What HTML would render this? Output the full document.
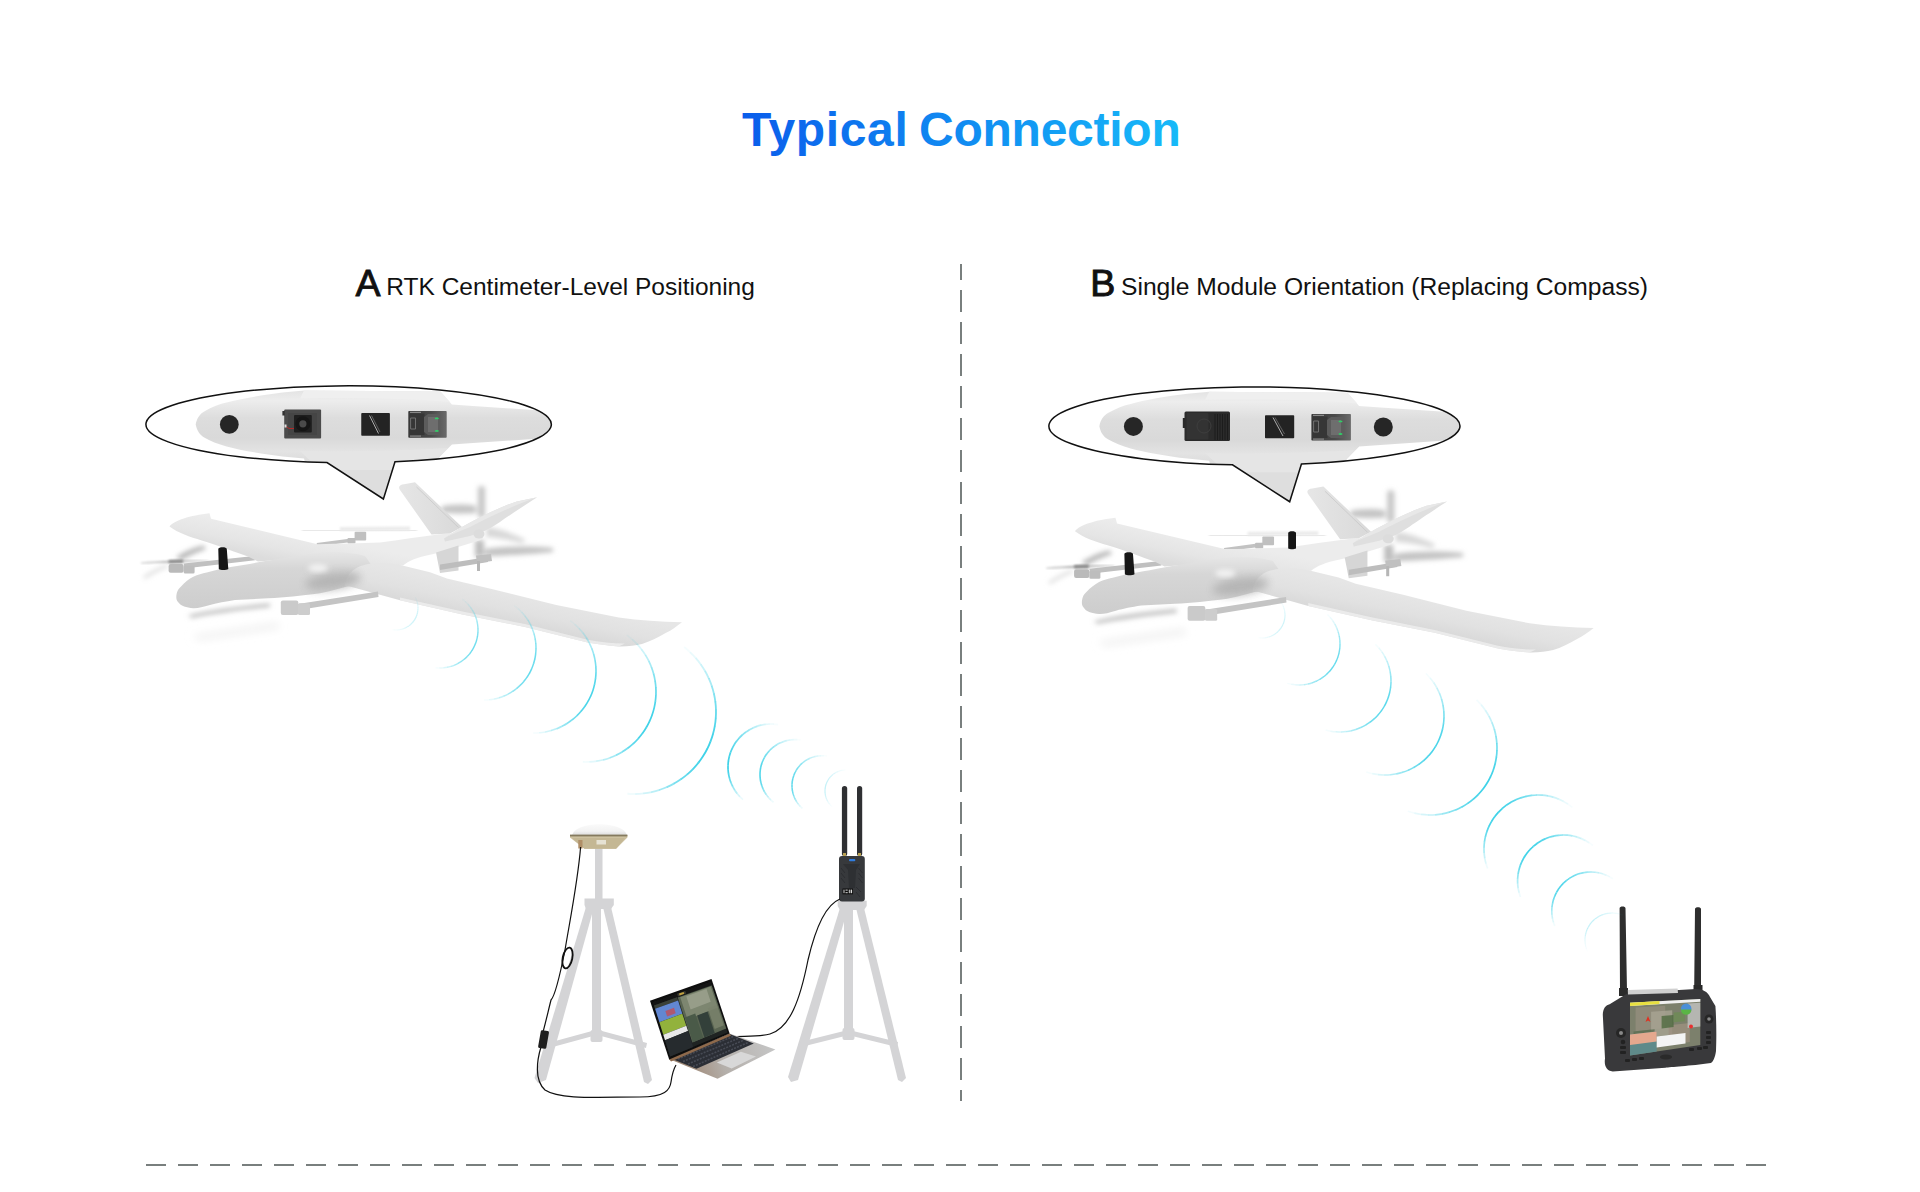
<!DOCTYPE html>
<html><head><meta charset="utf-8"><title>Typical Connection</title>
<style>
html,body{margin:0;padding:0;background:#fff;}
body{width:1920px;height:1192px;overflow:hidden;position:relative;font-family:"Liberation Sans",sans-serif;}
svg{position:absolute;left:0;top:0;}
</style></head><body>
<svg width="1920" height="1192" viewBox="0 0 1920 1192">
<defs>
  <linearGradient id="tg" gradientUnits="userSpaceOnUse" x1="742" y1="0" x2="1178" y2="0">
    <stop offset="0" stop-color="#0a5deb"/><stop offset="1" stop-color="#17b9f8"/>
  </linearGradient>
  <clipPath id="clipA"><path d="M327 462.6 A202.7 38.5 0 1 1 395 461.8 L383.4 499 Z"/></clipPath>
  <linearGradient id="fusA" gradientUnits="userSpaceOnUse" x1="0" y1="391" x2="0" y2="458"><stop offset="0" stop-color="#e4e4e4"/><stop offset="0.14" stop-color="#ededed"/><stop offset="0.4" stop-color="#dddddd"/><stop offset="0.7" stop-color="#d9d9d9"/><stop offset="0.9" stop-color="#e3e3e3"/><stop offset="1" stop-color="#dedede"/></linearGradient>
  <linearGradient id="m3A" x1="0" y1="0" x2="1" y2="0"><stop offset="0" stop-color="#3a3a3a"/><stop offset="0.6" stop-color="#4a4a4a"/><stop offset="1" stop-color="#6a6a6a"/></linearGradient>
  <linearGradient id="lwg" gradientUnits="userSpaceOnUse" x1="230" y1="520" x2="224" y2="550"><stop offset="0" stop-color="#ececec"/><stop offset="0.6" stop-color="#e5e5e5"/><stop offset="1" stop-color="#dcdcdc"/></linearGradient>
  <linearGradient id="rwg" gradientUnits="userSpaceOnUse" x1="500" y1="590" x2="493" y2="624"><stop offset="0" stop-color="#e6e6e6"/><stop offset="0.5" stop-color="#e1e1e1"/><stop offset="0.92" stop-color="#d8d8d8"/><stop offset="1" stop-color="#dcdcdc"/></linearGradient>
  <linearGradient id="fsg" x1="0" y1="0" x2="0" y2="1"><stop offset="0" stop-color="#e6e6e6"/><stop offset="0.3" stop-color="#d6d6d6"/><stop offset="1" stop-color="#cdcdcd"/></linearGradient>
  <linearGradient id="fing" x1="0" y1="0" x2="1" y2="0"><stop offset="0" stop-color="#e6e6e6"/><stop offset="1" stop-color="#d9d9d9"/></linearGradient>
  <linearGradient id="lapbase" gradientUnits="userSpaceOnUse" x1="690" y1="1075" x2="770" y2="1045"><stop offset="0" stop-color="#a08a78"/><stop offset="0.4" stop-color="#b4afaa"/><stop offset="1" stop-color="#c4c4c4"/></linearGradient>
  <linearGradient id="dome" x1="0" y1="0" x2="0" y2="1"><stop offset="0" stop-color="#fafafa"/><stop offset="0.6" stop-color="#f2f2f2"/><stop offset="1" stop-color="#d8d8d8"/></linearGradient>
  <linearGradient id="blade" gradientUnits="userSpaceOnUse" x1="141" y1="0" x2="208" y2="0"><stop offset="0" stop-color="#d8d8d8"/><stop offset="0.45" stop-color="#a8a8a8"/><stop offset="0.65" stop-color="#b0b0b0"/><stop offset="1" stop-color="#dcdcdc"/></linearGradient>
  <filter id="b1" x="-20%" y="-20%" width="140%" height="140%"><feGaussianBlur stdDeviation="1"/></filter>
  <filter id="b2" x="-30%" y="-30%" width="160%" height="160%"><feGaussianBlur stdDeviation="2.5"/></filter>
  <filter id="b4" x="-30%" y="-50%" width="160%" height="200%"><feGaussianBlur stdDeviation="4"/></filter>
</defs>

<!-- TITLE -->
<text x="742" y="146" font-family="Liberation Sans" font-weight="bold" font-size="48" letter-spacing="0.65" fill="url(#tg)">Typical</text>
<text x="919" y="146" font-family="Liberation Sans" font-weight="bold" font-size="48" letter-spacing="-0.25" fill="url(#tg)">Connection</text>

<!-- SUBTITLES -->
<text x="355.5" y="296.3" font-family="Liberation Sans" font-size="37.6" fill="#111" stroke="#111" stroke-width="0.8">A</text>
<text x="386.3" y="295.3" font-family="Liberation Sans" font-size="24.5" fill="#111">RTK Centimeter-Level Positioning</text>
<text x="1090.3" y="296.3" font-family="Liberation Sans" font-size="37.6" fill="#111" stroke="#111" stroke-width="1">B</text>
<text x="1121" y="295.3" font-family="Liberation Sans" font-size="24.63" fill="#111">Single Module Orientation (Replacing Compass)</text>

<!-- PLANE A -->
<g id="planeA">
  <!-- rear prop blurs (behind) -->
  <g filter="url(#b2)">
    <rect x="478" y="486" width="7" height="32" rx="3" fill="#c6c6c6"/>
    <rect x="475" y="540" width="9" height="17" fill="#bdbdbd"/>
    <path d="M441 507 C450 504 465 504 476 506 L476 513 C465 514 450 514 441 512 Z" fill="#c4c4c4"/>
    <path d="M485 549 C505 546 530 546 553 548 L553 552 C530 554 505 556 485 556 Z" fill="#c2c2c2"/>
    <path d="M486 527 C498 528 512 533 526 540 L522 543 C510 540 497 538 486 537 Z" fill="#d8d8d8"/>
  </g>
  <!-- top rear prop blur line -->
  <path d="M302 530.8 L417 530.5" stroke="#cdcdcd" stroke-width="1.6" filter="url(#b1)"/>
  <path d="M340 527 L410 526.5 L410 530.5 L340 531 Z" fill="#ebebeb" filter="url(#b1)"/>
  <!-- right upper boom + motor -->
  <path d="M316.7 543 L355 538 L355 541.5 L317 546.5 Z" fill="#c2c2c2"/>
  <rect x="354.6" y="531.7" width="11.6" height="8.7" rx="1" fill="#c0c0c0"/>
  <rect x="347.5" y="538" width="8" height="5.5" rx="1" fill="#bebebe"/>
  <!-- left front prop blur -->
  <g filter="url(#b2)">
    <path d="M176 557 C184 552 194 547 204 545.5 L206 549 C197 552 188 556 181 560.5 Z" fill="#a9a9a9" opacity="0.85"/>
    <path d="M143 577 C150 572 158 567.5 167 564.5 L168 567 C160 570 152 574 145 579 Z" fill="#d6d6d6" opacity="0.9"/>
  </g>
  <path d="M141 562.3 C160 561 185 560.2 208.5 560 L208.5 561.3 C185 561.8 160 563 141 563.8 Z" fill="url(#blade)" filter="url(#b1)"/>
  <path d="M168.6 560 L183 559.5 L183 563 L168.6 563.3 Z" fill="#8e8e8e" filter="url(#b1)"/>
  <!-- left upper boom + motor -->
  <path d="M183.7 563.5 L254 556 L255 560.3 L184.5 568.5 Z" fill="#c0c0c0"/>
  <rect x="168.6" y="564" width="15.1" height="8.8" rx="2" fill="#bababa"/>
  <rect x="183.7" y="565.6" width="10.9" height="8" rx="1.5" fill="#bdbdbd"/>
  <!-- upper body: left wing + tail boom -->
  <path d="M169.5 526.5 C174 520.5 190 515.5 209.5 513.3 L211 518.8 L317.5 544.2 C340 543.8 360 543.2 380 542.5 C400 540 420 536.5 440 534.2 L481 531.5 C484 533 484 538 481 540 L440 552.5 L430 554.7 C418 557 408 561 403 565.5 L372 567 L330 556 L258 561.5 L248 556.5 C235 552 222 546.5 201.7 540.4 C190 537 178 533 169.5 526.5 Z" fill="url(#lwg)"/>
  <!-- vertical fin -->
  <path d="M400 490 C397.5 486.5 400.5 484.5 404 484.2 L415 482.3 L462 527 L450 533.5 L431.5 534.5 Z" fill="url(#fing)"/>
  <path d="M416.5 487 L458.5 527.5" stroke="#c9c9c9" stroke-width="0.8"/>
  <!-- horizontal stabilizer -->
  <path d="M444 538.5 L461.5 527.2 C480 517 500 507 516.9 501.4 L537.2 497.2 C525 505 510 515 500 522 C494 526 489 529 484.6 531 L470 536 L445 541.5 Z" fill="#dfdfdf"/>
  <path d="M446 537 L461.5 527.2 C480 517 500 507 516.9 501.4 L537.2 497.2 C520 503 495 514 470 527 Z" fill="#e8e8e8"/>
  <ellipse cx="479" cy="534" rx="5.5" ry="4.5" fill="#dcdcdc"/>
  <!-- lower fin -->
  <path d="M436 552.5 L440 573 L458.5 570.5 L458.5 545.5 Z" fill="#d6d6d6"/>
  <!-- rear lower motor/boom -->
  <path d="M440 564.5 L488 557 L488 562 L440 570 Z" fill="#bdbdbd"/>
  <path d="M476 555.5 L491 554 L492 561 L477 563 Z" fill="#c0c0c0"/>
  <rect x="477" y="561" width="3" height="10" fill="#b6b6b6"/>
  <!-- lower prop blur under fuselage -->
  <g filter="url(#b2)">
    <path d="M188 615.5 C210 610 240 606 270 603.5 L270 607 C240 610 212 614 192 618 Z" fill="#bdbdbd"/>
  </g>
  <path d="M192 636 L277 623 L280 628 L200 640 Z" fill="#eeeeee" filter="url(#b4)"/>
  <!-- fuselage -->
  <path d="M176.3 597.5 C176.5 592 178 589 180.8 586.7 C185 582 189 579 193.3 576.7 C198 574.5 202 573.5 206.7 572.5 L218.3 569.6 C226 567.8 235 566.3 243.3 565 C255 562.8 265 561 276.7 559.2 C290 557 305 554.5 320 552.5 C335 551.5 350 552 365 556 L372 566 L359 583.3 C345 587 332 591 320 593.3 C300 596 285 597.5 268.3 598.3 L235 600 C225 601.5 218 603 210 605 C203 607 198 608.5 193.3 608.3 C186 607.5 181 606 179.2 603.3 C177.5 601.5 176.3 600 176.3 597.5 Z" fill="url(#fsg)"/>
  <!-- right big wing -->
  <path d="M345 586 C346 576 352 567 368 564 C382 562 394 563.5 402.3 565.6 L430 572.2 L446.9 578.4 L493.75 589.4 L556.25 605 L618.75 617.5 C640 620.5 660 621.8 682 622.2 C677 626 672 630 665.6 633 C658 637.5 650 641.5 642 644 C635 645.8 628 646.5 618.75 646.4 C608 645.5 598 644.5 587.5 642.5 L525 626.9 L462.5 614.4 L400 600.3 L350.8 586.7 Z" fill="url(#rwg)"/>
  <path d="M400 597.5 L462.5 611.6 L525 624.1 L587.5 639.7 C600 642 612 643.5 625 643.5 L618.75 646.4 C608 645.5 598 644.5 587.5 642.5 L525 626.9 L462.5 614.4 L400 600.3 Z" fill="#efefef" opacity="0.8"/>
  <!-- wing root shadow -->
  <ellipse cx="333" cy="581" rx="28" ry="8.5" fill="#b2b2b2" filter="url(#b4)" opacity="0.9" transform="rotate(-8 333 581)"/>
  <ellipse cx="318" cy="568" rx="10" ry="4" fill="#f2f2f2" filter="url(#b2)"/>
  <!-- lower boom & motor -->
  <path d="M298 604 L378 591.5 L378.5 597 L299 610 Z" fill="#c4c4c4"/>
  <rect x="280.8" y="600.5" width="17.5" height="14.5" rx="2" fill="#cacaca"/>
  <rect x="298" y="603.3" width="12" height="11.7" rx="1.5" fill="#cdcdcd"/>
  <!-- antenna -->
  <path d="M218.3 549 C218.3 546.6 226.8 546.6 226.8 549 L228.3 569 C226 570.3 220.5 570.3 218.8 569 Z" fill="#161616"/>
</g>

<!-- BUBBLE A -->
<g id="bubbleA">
 <g id="bubbleBase">
  <path d="M327 462.6 A202.7 38.5 0 1 1 395 461.8 L383.4 499 Z" fill="#fff"/>
  <g clip-path="url(#clipA)">
    <path d="M195.7 424.5 C197 418 200 414 204.2 411.6 C212 407 220 404 226.6 402.6 C240 399 262 395 282.6 392.6 L304 390.4 L440.4 391.5 L451.9 404.5 L473 406 L556 411.6 L556 437.4 L473 443 L452 444.5 L440.4 456 L400 520 L320 520 L304 458.6 L282.6 456.4 C262 454 240 450 226.6 446.4 C218 444 210 441 204.2 437.4 C200 435 197 431 195.7 424.5 Z" fill="url(#fusA)"/>
    <path d="M304 390.4 L440.4 391.5 L450 402 C400 398 350 397.5 300 398.5 Z" fill="#efefef"/>
    <path d="M300 451 C350 451.5 400 451 448 448 L440.4 456 L420 470 L320 470 Z" fill="#e5e5e5"/>
  </g>
  <path d="M327 462.6 A202.7 38.5 0 1 1 395 461.8 L383.4 499 Z" fill="none" stroke="#111" stroke-width="1.5"/>
 </g>
  <!-- modules -->
  <circle cx="229.3" cy="424.4" r="9.4" fill="#262626"/>
  <rect x="284.2" y="409.5" width="36.9" height="29.1" rx="1" fill="#4b4b4b"/>
  <rect x="282.4" y="411" width="2.5" height="4.5" fill="#333"/>
  <rect x="288" y="413" width="29" height="22" fill="#454545"/>
  <rect x="294" y="414.9" width="17.8" height="17.7" rx="1" fill="#1e1e1e"/>
  <circle cx="302.9" cy="423.8" r="7.5" fill="#151515"/>
  <circle cx="302.9" cy="423.8" r="3.6" fill="#4a4a4a"/>
  <path d="M285.5 426 L289 428.5 L294 428.5" stroke="#c22" stroke-width="0.8" fill="none"/>
  <rect x="284.5" y="424.5" width="2" height="3" fill="#ddd"/>
  <rect x="361.25" y="413.1" width="28.65" height="22.6" rx="0.8" fill="#232323"/>
  <path d="M369.5 415.5 L378.5 433.5" stroke="#bbb" stroke-width="0.9"/>
  <path d="M371.5 415.5 L380 432" stroke="#888" stroke-width="0.6"/>
  <rect x="408.3" y="411" width="38.4" height="26.8" rx="0.8" fill="url(#m3A)"/>
  <rect x="409.5" y="413.5" width="15" height="21.5" fill="#363636"/>
  <rect x="410.8" y="418" width="4.6" height="11" fill="none" stroke="#aaa" stroke-width="0.5"/>
  <path d="M424 417 L428 414 L440 414 L440 435 L428 435 L424 432 Z" fill="#5c5c5c"/>
  <rect x="428" y="417" width="10" height="15" fill="#6e6e6e"/>
  <ellipse cx="436.8" cy="418.4" rx="2" ry="0.9" fill="#2fcf66"/>
  <ellipse cx="436.8" cy="430.9" rx="2" ry="0.9" fill="#2fcf66"/>
  <rect x="410" y="411.8" width="11" height="1.2" fill="#888"/>
  <rect x="410" y="435.5" width="11" height="1.2" fill="#888"/>
</g>

<!-- PLANE B -->
<use href="#planeA" transform="matrix(1.012 0 0 1.012 903.46 -1.62)"/>
<path d="M1288.2 533 C1288.2 530.5 1296 530.5 1296 533 L1296 548.5 C1294 549.5 1290 549.5 1288.2 548.5 Z" fill="#151515"/>

<!-- BUBBLE B -->
<use href="#bubbleBase" transform="matrix(1.014 0 0 1.014 900.91 -4.24)"/>
<g id="modulesB">
  <circle cx="1133.4" cy="426.4" r="9.5" fill="#262626"/>
  <circle cx="1383.3" cy="427" r="9.5" fill="#262626"/>
  <rect x="1182.8" y="418" width="3" height="10" fill="#2a2a2a"/>
  <rect x="1184.5" y="411.4" width="45.5" height="29.6" rx="1.5" fill="#2b2b2b"/>
  <rect x="1186.5" y="413" width="22" height="26.5" rx="1" fill="#333"/>
  <circle cx="1204" cy="426" r="7" fill="none" stroke="#3e3e3e" stroke-width="1"/>
  <g stroke="#151515" stroke-width="0.7"><path d="M1215 414 V440 M1217.5 414 V440 M1220 414 V440 M1222.5 414 V440 M1225 414 V440 M1227.5 414 V440"/></g>
  <rect x="1265" y="415.2" width="29.2" height="23" rx="0.8" fill="#232323"/>
  <path d="M1273 417.5 L1283 436" stroke="#bbb" stroke-width="0.9"/>
  <path d="M1275 417.5 L1284.5 434" stroke="#888" stroke-width="0.6"/>
  <rect x="1311.4" y="414" width="39.5" height="26.5" rx="0.8" fill="url(#m3A)"/>
  <rect x="1312.5" y="416.5" width="15" height="21.5" fill="#363636"/>
  <rect x="1313.8" y="421" width="4.6" height="11" fill="none" stroke="#aaa" stroke-width="0.5"/>
  <path d="M1327 420 L1331 417 L1344 417 L1344 438 L1331 438 L1327 435 Z" fill="#5c5c5c"/>
  <rect x="1331" y="420" width="10" height="15" fill="#6e6e6e"/>
  <ellipse cx="1340.5" cy="421.4" rx="2" ry="0.9" fill="#2fcf66"/>
  <ellipse cx="1340.5" cy="434" rx="2" ry="0.9" fill="#2fcf66"/>
  <rect x="1313" y="414.8" width="11" height="1.2" fill="#888"/>
  <rect x="1313" y="438.5" width="11" height="1.2" fill="#888"/>
</g>

<!-- GROUND A -->
<g id="groundA">
  <!-- left tripod -->
  <g fill="#d4d4d6">
    <rect x="595" y="846" width="7.5" height="55"/>
    <path d="M584.5 898.5 L613.8 898.5 L613.8 905 L611 909 L586 909 L584.5 905 Z"/>
    <path d="M586 907 L594 907 L546 1080 L538 1083 L534.5 1078 Z"/>
    <path d="M603 907 L611 907 L652 1080 L648 1084 L644 1082 Z"/>
    <rect x="592" y="907" width="9" height="128"/>
    <rect x="590.5" y="1030" width="12" height="12" rx="2"/>
    <path d="M548 1043 L592 1031 L593 1036 L549 1048 Z"/>
    <path d="M602 1031 L647 1043 L646 1048 L601 1036 Z"/>
  </g>
  <!-- right tripod -->
  <g fill="#d4d4d6">
    <rect x="842" y="900" width="8" height="10"/>
    <path d="M837.7 900.8 L866.7 900.8 L866.7 906 L864 910 L840 910 L837.7 906 Z"/>
    <path d="M840 908 L848 908 L798 1080 L791 1082 L788 1077 Z"/>
    <path d="M856 908 L864 908 L906 1078 L902 1082 L898 1080 Z"/>
    <rect x="844" y="908" width="9" height="128"/>
    <rect x="842.5" y="1028" width="12" height="12" rx="2"/>
    <path d="M800 1042 L844 1031 L845 1036 L801 1047 Z"/>
    <path d="M853 1031 L898 1042 L897 1047 L852 1036 Z"/>
  </g>
  <!-- GNSS antenna -->
  <path d="M572 835.8 C573 828.5 586 824.3 599.5 824.3 C613 824.3 626 828.5 627 835.8 Z" fill="url(#dome)"/>
  <path d="M570 835 L627.4 835 L627.4 837.5 L616.1 848.7 L584.4 848.7 L570 837.5 Z" fill="#cdc1a0"/>
  <path d="M572 838 L625 838 L616.1 848.7 L584.4 848.7 Z" fill="#c4b794"/>
  <rect x="570" y="834.6" width="57.4" height="1.8" fill="#857a5e"/>
  <rect x="596.5" y="840" width="9.5" height="4.5" fill="#e6e2d4"/>
  <rect x="578.3" y="840" width="4.2" height="8.5" fill="#b08f68"/>
  <!-- radio (ground station) -->
  <rect x="841.9" y="786" width="5.3" height="70" rx="2.6" fill="#2f3033"/>
  <rect x="857" y="786" width="5.2" height="70" rx="2.6" fill="#2f3033"/>
  <rect x="843" y="853" width="3" height="3" fill="#b8a050"/>
  <rect x="858" y="853" width="3" height="3" fill="#b8a050"/>
  <rect x="839" y="856" width="25.8" height="45.4" rx="3" fill="#37393c"/>
  <rect x="849" y="859" width="6.3" height="2.2" rx="1" fill="#2f7de0"/>
  <path d="M843 864 L860 864 L856 870 L855 888 L849 888 L848 870 Z" fill="#2e3033"/>
  <rect x="842.5" y="888.5" width="10.5" height="5.8" fill="#0c0c0c"/>
  <g fill="#d8d8d8"><rect x="843.5" y="889.6" width="1" height="3.6"/><rect x="845.5" y="889.6" width="2.2" height="1"/><rect x="845.5" y="892.2" width="2.2" height="1"/><rect x="848.8" y="889.6" width="1" height="3.6"/><rect x="850.6" y="889.6" width="1.5" height="3.6"/></g>
  <g stroke="#2a2b2e" stroke-width="0.8"><path d="M841 868 L845 873 M841 873 L845 878 M841 878 L845 883 M858.5 868 L862.5 873 M858.5 873 L862.5 878 M858.5 878 L862.5 883 M856 887 L861 892 M856 892 L860 897"/></g>
  <!-- cables -->
  <g fill="none" stroke="#111" stroke-width="1.2">
    <path d="M580.6 847 C578 880 570 920 565 950 C562 965 556 995 551 1000 C548 1012 545 1025 543 1032"/>
    <ellipse cx="567.5" cy="958" rx="4.8" ry="10.5" transform="rotate(12 567.5 958)" stroke-width="1.8"/>
    <path d="M541 1047 C537 1060 534 1080 545 1090 C560 1100 600 1097 640 1097 C665 1097 670 1090 671 1082 C672 1075 673 1070 676 1065"/>
    <path d="M730 1037 C745 1036 760 1037 770 1034 C790 1028 800 1000 808 960 C815 930 825 905 840 899"/>
  </g>
  <rect x="539.4" y="1030.5" width="8.3" height="18" rx="1.5" fill="#1e1e1e" transform="rotate(10 543.5 1039.5)"/>
  <!-- laptop -->
  <path d="M669 1059 L729.6 1033.4 L775.4 1049.5 L717.5 1078.7 Z" fill="url(#lapbase)"/>
  <path d="M671 1058.5 L729.6 1034 L753.8 1043.5 L696.4 1068.7 Z" fill="#2b2e35"/>
  <g stroke="#4a4e58" stroke-width="1.6" stroke-dasharray="2 1.2" opacity="0.9"><path d="M678 1059 L733 1036.5 M683 1061.5 L738 1038.5 M688 1064 L743 1040.5 M693 1066.5 L748 1042.5"/></g>
  <path d="M716.8 1062.4 L740.9 1051.7 L756 1056.6 L731.7 1068.6 Z" fill="#d8d8d8"/>
  <path d="M669 1059 L729.6 1033.4 L731 1035.8 L671 1061.5 Z" fill="#8e6a4c"/>
  <path d="M650 1000.7 L711.5 979 L729.6 1033.4 L669.2 1059.6 Z" fill="#0e0e0e"/>
  <path d="M653.0 1002.2 L710.5 982.0 L727.6 1032.4 L670.2 1056.6 Z" fill="#1f2322"/>
  <path d="M653.0 1002.2 L710.5 982.0 L711.5 985.0 L654.0 1005.5 Z" fill="#141414"/>
  <path d="M677.1 993.7 L685.2 990.9 L686.1 993.5 L678.0 996.4 Z" fill="#3a3a30"/>
  <path d="M679.0 993.6 L683.6 992.0 L684.2 993.8 L679.6 995.5 Z" fill="#c0a040"/>
  <path d="M654.0 1005.5 L677.0 997.3 L678.1 1000.5 L655.1 1008.7 Z" fill="#3a4038"/>
  <path d="M655.1 1008.7 L678.1 1000.5 L682.3 1013.7 L659.4 1022.3 Z" fill="#6287d2"/>
  <path d="M659.4 1022.3 L682.3 1013.7 L686.3 1025.8 L663.3 1034.8 Z" fill="#92b23c"/>
  <path d="M665.4 1011.0 L674.0 1007.8 L675.7 1013.2 L667.1 1016.4 Z" fill="#c84a50" opacity="0.75"/>
  <path d="M663.3 1034.8 L686.3 1025.8 L688.0 1031.1 L665.0 1040.3 Z" fill="#e8e8e8"/>
  <path d="M665.0 1040.3 L688.0 1031.1 L693.2 1046.9 L670.2 1056.6 Z" fill="#262b2e"/>
  <path d="M677.8 997.6 L711.7 985.5 L726.2 1028.4 L692.4 1042.5 Z" fill="#5a6552"/>
  <path d="M680.2 997.3 L710.7 986.4 L717.9 1007.6 L687.5 1019.4 Z" fill="#7f8872" opacity="0.95"/>
  <path d="M686.3 996.3 L706.5 989.1 L710.7 1001.8 L690.6 1009.4 Z" fill="#a3a794" opacity="0.7"/>
  <path d="M697.2 1015.6 L707.6 1011.6 L714.8 1033.1 L704.4 1037.4 Z" fill="#33403a"/>
  <path d="M684.9 1017.4 L695.2 1013.5 L703.3 1037.9 L692.9 1042.2 Z" fill="#4a5a48"/>
  <path d="M707.9 1008.6 L717.0 1005.1 L723.9 1025.3 L714.7 1029.1 Z" fill="#7a836c" opacity="0.85"/>
</g>

<!-- CONTROLLER B -->
<g id="ctrlB">
  <path d="M1619.6 908.3 C1619.6 906 1625.5 906 1625.5 908.3 L1627 991 L1620 991 Z" fill="#2e2e2e"/>
  <path d="M1695 909 C1695 906.5 1701 906.5 1701 909 L1701 988 L1694.2 988 Z" fill="#2e2e2e"/>
  <rect x="1619" y="988" width="9" height="8" fill="#2a2a2a"/>
  <rect x="1693.5" y="985" width="9" height="8" fill="#2a2a2a"/>
  <path d="M1628 993 L1696 989 C1703 989 1708 992 1710 997 L1715.4 1006 C1716.5 1020 1716.5 1040 1716 1051 C1715 1058 1713 1062 1710.8 1063 C1690 1066 1670 1067 1665.5 1067.7 L1612.7 1071.5 C1606 1071 1604 1065 1605 1058.6 L1602.8 1014.8 C1603 1008 1606 1005 1609.6 1004.2 Z" fill="#39393b"/>
  <path d="M1627.8 990 L1677.6 988.5 L1678 993 L1628 994.5 Z" fill="#d0d0d0"/>
  <path d="M1630.0 1002.7 L1700.3 999.0 L1700.3 1045.0 L1630.0 1055.6 Z" fill="#7c806c"/>
  <path d="M1630.0 1002.7 L1700.3 999.0 L1700.3 1001.8 L1630.0 1005.9 Z" fill="#f0f0f0"/>
  <path d="M1630.0 1002.7 L1659.5 1001.1 L1659.5 1004.1 L1630.0 1005.9 Z" fill="#e8e040"/>
  <path d="M1635.6 1007.6 L1665.2 1005.8 L1665.2 1028.0 L1635.6 1031.2 Z" fill="#8f8b7a"/>
  <path d="M1651.1 1011.8 L1672.2 1010.2 L1672.2 1034.6 L1651.1 1037.2 Z" fill="#a8a494" opacity="0.8"/>
  <path d="M1668.7 1025.2 L1689.8 1023.1 L1689.8 1041.9 L1668.7 1044.9 Z" fill="#9c9080" opacity="0.8"/>
  <path d="M1633.5 1031.4 L1654.6 1029.2 L1654.6 1039.3 L1633.5 1041.9 Z" fill="#5d6e52" opacity="0.8"/>
  <path d="M1661.6 1016.0 L1673.6 1015.0 L1673.6 1027.1 L1661.6 1028.4 Z" fill="#4f6a40" opacity="0.8"/>
  <path d="M1673.6 1012.6 L1684.8 1011.7 L1684.8 1021.2 L1673.6 1022.3 Z" fill="#6f8a58" opacity="0.9"/>
  <path d="M1687.6 1003.4 L1700.3 1002.7 L1700.3 1026.6 L1687.6 1028.0 Z" fill="#c8c8c8" opacity="0.75"/>
  <path d="M1630.0 1034.4 L1656.7 1031.5 L1656.7 1051.6 L1630.0 1055.6 Z" fill="#5f8a8a"/>
  <path d="M1630.0 1034.4 L1656.7 1031.5 L1656.7 1041.5 L1630.0 1045.0 Z" fill="#e4a88e"/>
  <path d="M1656.7 1036.5 L1685.5 1033.0 L1685.5 1043.4 L1656.7 1047.5 Z" fill="#f4f4f4"/>
  <circle cx="1686.2" cy="1008.8" r="5.3" fill="#4a8fd8"/>
  <path d="M1680.9 1009.5 A5.3 5.3 0 0 0 1691.5 1009.5 Z" fill="#5ab545"/>
  <path d="M1648 1016 L1650.5 1022 L1648 1020.5 L1645.5 1022 Z" fill="#e03020"/>
  <circle cx="1691" cy="1026.6" r="2" fill="#e83030"/>
  <circle cx="1621" cy="1033" r="5" fill="#262626"/>
  <circle cx="1621" cy="1033" r="2" fill="#888"/>
  <circle cx="1709" cy="1019" r="4.5" fill="#262626"/>
  <circle cx="1709" cy="1019" r="1.8" fill="#888"/>
  <circle cx="1623" cy="1042" r="2.3" fill="#222"/>
  <g fill="#222"><rect x="1620" y="1046" width="6" height="3" rx="1"/><rect x="1620" y="1051" width="6" height="3" rx="1"/><rect x="1625" y="1059" width="5" height="3" rx="1"/><rect x="1632" y="1058" width="5" height="3" rx="1"/><rect x="1639" y="1057" width="5" height="3" rx="1"/><rect x="1706" y="1031" width="5" height="3" rx="1"/><rect x="1706" y="1036" width="5" height="3" rx="1"/><rect x="1706" y="1041" width="5" height="3" rx="1"/><rect x="1689" y="1048" width="5" height="3" rx="1"/><rect x="1697" y="1047" width="5" height="3" rx="1"/><rect x="1703" y="1046" width="5" height="3" rx="1"/></g>
  <ellipse cx="1666" cy="1057" rx="6" ry="2.5" fill="#2a2a2a"/>
</g>

<!-- WAVES -->
<g id="waves" fill="none" stroke="#3fd2e8">
<path d="M415.19 597.24 A22 22 0 0 1 416.14 599.16" stroke-opacity="0.04" stroke-width="1.2"/>
<path d="M416.11 599.08 A22 22 0 0 1 416.88 601.08" stroke-opacity="0.06" stroke-width="1.2"/>
<path d="M416.85 600.99 A22 22 0 0 1 417.44 603.06" stroke-opacity="0.09" stroke-width="1.2"/>
<path d="M417.42 602.97 A22 22 0 0 1 417.81 605.08" stroke-opacity="0.12" stroke-width="1.2"/>
<path d="M417.79 604.99 A22 22 0 0 1 417.98 607.13" stroke-opacity="0.15" stroke-width="1.2"/>
<path d="M417.98 607.04 A22 22 0 0 1 417.97 609.18" stroke-opacity="0.18" stroke-width="1.2"/>
<path d="M417.97 609.10 A22 22 0 0 1 417.76 611.23" stroke-opacity="0.20" stroke-width="1.2"/>
<path d="M417.77 611.14 A22 22 0 0 1 417.37 613.25" stroke-opacity="0.22" stroke-width="1.2"/>
<path d="M417.39 613.16 A22 22 0 0 1 416.78 615.22" stroke-opacity="0.24" stroke-width="1.2"/>
<path d="M416.81 615.14 A22 22 0 0 1 416.02 617.13" stroke-opacity="0.25" stroke-width="1.2"/>
<path d="M416.05 617.05 A22 22 0 0 1 415.08 618.96" stroke-opacity="0.25" stroke-width="1.2"/>
<path d="M415.12 618.88 A22 22 0 0 1 413.97 620.69" stroke-opacity="0.25" stroke-width="1.2"/>
<path d="M414.02 620.62 A22 22 0 0 1 412.71 622.31" stroke-opacity="0.24" stroke-width="1.2"/>
<path d="M412.76 622.25 A22 22 0 0 1 411.30 623.81" stroke-opacity="0.23" stroke-width="1.2"/>
<path d="M411.36 623.75 A22 22 0 0 1 409.76 625.17" stroke-opacity="0.22" stroke-width="1.2"/>
<path d="M409.82 625.11 A22 22 0 0 1 408.09 626.38" stroke-opacity="0.20" stroke-width="1.2"/>
<path d="M408.17 626.33 A22 22 0 0 1 406.32 627.43" stroke-opacity="0.18" stroke-width="1.2"/>
<path d="M406.40 627.39 A22 22 0 0 1 404.47 628.31" stroke-opacity="0.16" stroke-width="1.2"/>
<path d="M404.55 628.27 A22 22 0 0 1 402.53 629.01" stroke-opacity="0.14" stroke-width="1.2"/>
<path d="M402.62 628.98 A22 22 0 0 1 400.54 629.53" stroke-opacity="0.11" stroke-width="1.2"/>
<path d="M400.63 629.51 A22 22 0 0 1 398.51 629.86" stroke-opacity="0.09" stroke-width="1.2"/>
<path d="M398.60 629.85 A22 22 0 0 1 396.46 630.00" stroke-opacity="0.07" stroke-width="1.2"/>
<path d="M396.55 629.99 A22 22 0 0 1 394.41 629.94" stroke-opacity="0.05" stroke-width="1.2"/>
<path d="M394.49 629.95 A22 22 0 0 1 392.36 629.70" stroke-opacity="0.03" stroke-width="1.2"/>
<path d="M462.22 599.17 A38 38 0 0 1 465.34 601.68" stroke-opacity="0.04" stroke-width="1.4"/>
<path d="M465.22 601.57 A38 38 0 0 1 468.06 604.38" stroke-opacity="0.08" stroke-width="1.4"/>
<path d="M467.95 604.26 A38 38 0 0 1 470.50 607.34" stroke-opacity="0.14" stroke-width="1.4"/>
<path d="M470.41 607.21 A38 38 0 0 1 472.63 610.53" stroke-opacity="0.20" stroke-width="1.4"/>
<path d="M472.55 610.39 A38 38 0 0 1 474.43 613.91" stroke-opacity="0.27" stroke-width="1.4"/>
<path d="M474.36 613.77 A38 38 0 0 1 475.87 617.47" stroke-opacity="0.34" stroke-width="1.4"/>
<path d="M475.82 617.32 A38 38 0 0 1 476.95 621.15" stroke-opacity="0.42" stroke-width="1.4"/>
<path d="M476.92 620.99 A38 38 0 0 1 477.66 624.92" stroke-opacity="0.49" stroke-width="1.4"/>
<path d="M477.64 624.76 A38 38 0 0 1 477.98 628.74" stroke-opacity="0.55" stroke-width="1.4"/>
<path d="M477.97 628.58 A38 38 0 0 1 477.91 632.58" stroke-opacity="0.61" stroke-width="1.4"/>
<path d="M477.92 632.41 A38 38 0 0 1 477.46 636.38" stroke-opacity="0.66" stroke-width="1.4"/>
<path d="M477.49 636.23 A38 38 0 0 1 476.63 640.13" stroke-opacity="0.70" stroke-width="1.4"/>
<path d="M476.67 639.97 A38 38 0 0 1 475.42 643.77" stroke-opacity="0.73" stroke-width="1.4"/>
<path d="M475.48 643.62 A38 38 0 0 1 473.85 647.27" stroke-opacity="0.74" stroke-width="1.4"/>
<path d="M473.92 647.12 A38 38 0 0 1 471.94 650.59" stroke-opacity="0.75" stroke-width="1.4"/>
<path d="M472.02 650.46 A38 38 0 0 1 469.70 653.71" stroke-opacity="0.74" stroke-width="1.4"/>
<path d="M469.80 653.58 A38 38 0 0 1 467.16 656.58" stroke-opacity="0.71" stroke-width="1.4"/>
<path d="M467.27 656.47 A38 38 0 0 1 464.34 659.18" stroke-opacity="0.66" stroke-width="1.4"/>
<path d="M464.46 659.08 A38 38 0 0 1 461.27 661.49" stroke-opacity="0.60" stroke-width="1.4"/>
<path d="M461.41 661.40 A38 38 0 0 1 457.99 663.47" stroke-opacity="0.53" stroke-width="1.4"/>
<path d="M458.13 663.40 A38 38 0 0 1 454.52 665.11" stroke-opacity="0.45" stroke-width="1.4"/>
<path d="M454.67 665.05 A38 38 0 0 1 450.91 666.40" stroke-opacity="0.36" stroke-width="1.4"/>
<path d="M451.06 666.35 A38 38 0 0 1 447.19 667.31" stroke-opacity="0.27" stroke-width="1.4"/>
<path d="M447.34 667.28 A38 38 0 0 1 443.39 667.85" stroke-opacity="0.19" stroke-width="1.4"/>
<path d="M443.55 667.83 A38 38 0 0 1 439.55 668.00" stroke-opacity="0.11" stroke-width="1.4"/>
<path d="M439.72 668.00 A38 38 0 0 1 435.73 667.76" stroke-opacity="0.05" stroke-width="1.4"/>
<path d="M514.22 605.68 A52 52 0 0 1 518.32 608.94" stroke-opacity="0.04" stroke-width="1.5"/>
<path d="M518.16 608.80 A52 52 0 0 1 521.93 612.43" stroke-opacity="0.09" stroke-width="1.5"/>
<path d="M521.79 612.28 A52 52 0 0 1 525.19 616.25" stroke-opacity="0.15" stroke-width="1.5"/>
<path d="M525.06 616.09 A52 52 0 0 1 528.06 620.38" stroke-opacity="0.22" stroke-width="1.5"/>
<path d="M527.94 620.20 A52 52 0 0 1 530.52 624.75" stroke-opacity="0.29" stroke-width="1.5"/>
<path d="M530.42 624.57 A52 52 0 0 1 532.54 629.35" stroke-opacity="0.37" stroke-width="1.5"/>
<path d="M532.46 629.15 A52 52 0 0 1 534.11 634.12" stroke-opacity="0.44" stroke-width="1.5"/>
<path d="M534.06 633.92 A52 52 0 0 1 535.22 639.02" stroke-opacity="0.52" stroke-width="1.5"/>
<path d="M535.18 638.81 A52 52 0 0 1 535.85 644.00" stroke-opacity="0.59" stroke-width="1.5"/>
<path d="M535.83 643.79 A52 52 0 0 1 535.99 649.02" stroke-opacity="0.65" stroke-width="1.5"/>
<path d="M535.99 648.81 A52 52 0 0 1 535.65 654.03" stroke-opacity="0.70" stroke-width="1.5"/>
<path d="M535.67 653.82 A52 52 0 0 1 534.83 658.99" stroke-opacity="0.75" stroke-width="1.5"/>
<path d="M534.87 658.78 A52 52 0 0 1 533.53 663.84" stroke-opacity="0.78" stroke-width="1.5"/>
<path d="M533.59 663.64 A52 52 0 0 1 531.77 668.54" stroke-opacity="0.79" stroke-width="1.5"/>
<path d="M531.85 668.35 A52 52 0 0 1 529.57 673.05" stroke-opacity="0.80" stroke-width="1.5"/>
<path d="M529.67 672.87 A52 52 0 0 1 526.94 677.33" stroke-opacity="0.79" stroke-width="1.5"/>
<path d="M527.06 677.16 A52 52 0 0 1 523.91 681.34" stroke-opacity="0.76" stroke-width="1.5"/>
<path d="M524.04 681.18 A52 52 0 0 1 520.50 685.03" stroke-opacity="0.71" stroke-width="1.5"/>
<path d="M520.65 684.88 A52 52 0 0 1 516.76 688.38" stroke-opacity="0.64" stroke-width="1.5"/>
<path d="M516.93 688.25 A52 52 0 0 1 512.71 691.35" stroke-opacity="0.56" stroke-width="1.5"/>
<path d="M512.89 691.24 A52 52 0 0 1 508.40 693.92" stroke-opacity="0.48" stroke-width="1.5"/>
<path d="M508.58 693.82 A52 52 0 0 1 503.85 696.06" stroke-opacity="0.39" stroke-width="1.5"/>
<path d="M504.05 695.98 A52 52 0 0 1 499.13 697.75" stroke-opacity="0.29" stroke-width="1.5"/>
<path d="M499.33 697.69 A52 52 0 0 1 494.26 698.98" stroke-opacity="0.20" stroke-width="1.5"/>
<path d="M494.46 698.94 A52 52 0 0 1 489.29 699.73" stroke-opacity="0.12" stroke-width="1.5"/>
<path d="M489.50 699.71 A52 52 0 0 1 484.28 700.00" stroke-opacity="0.05" stroke-width="1.5"/>
<path d="M570.07 620.57 A62 62 0 0 1 574.98 624.48" stroke-opacity="0.05" stroke-width="1.6"/>
<path d="M574.79 624.31 A62 62 0 0 1 579.31 628.68" stroke-opacity="0.10" stroke-width="1.6"/>
<path d="M579.13 628.49 A62 62 0 0 1 583.20 633.27" stroke-opacity="0.18" stroke-width="1.6"/>
<path d="M583.05 633.07 A62 62 0 0 1 586.63 638.23" stroke-opacity="0.26" stroke-width="1.6"/>
<path d="M586.50 638.01 A62 62 0 0 1 589.56 643.49" stroke-opacity="0.35" stroke-width="1.6"/>
<path d="M589.45 643.27 A62 62 0 0 1 591.97 649.02" stroke-opacity="0.44" stroke-width="1.6"/>
<path d="M591.88 648.78 A62 62 0 0 1 593.83 654.75" stroke-opacity="0.53" stroke-width="1.6"/>
<path d="M593.77 654.51 A62 62 0 0 1 595.13 660.64" stroke-opacity="0.62" stroke-width="1.6"/>
<path d="M595.08 660.39 A62 62 0 0 1 595.85 666.62" stroke-opacity="0.70" stroke-width="1.6"/>
<path d="M595.83 666.37 A62 62 0 0 1 595.98 672.64" stroke-opacity="0.77" stroke-width="1.6"/>
<path d="M595.98 672.39 A62 62 0 0 1 595.53 678.65" stroke-opacity="0.83" stroke-width="1.6"/>
<path d="M595.56 678.40 A62 62 0 0 1 594.49 684.59" stroke-opacity="0.88" stroke-width="1.6"/>
<path d="M594.55 684.34 A62 62 0 0 1 592.89 690.40" stroke-opacity="0.92" stroke-width="1.6"/>
<path d="M592.97 690.16 A62 62 0 0 1 590.73 696.03" stroke-opacity="0.94" stroke-width="1.6"/>
<path d="M590.83 695.79 A62 62 0 0 1 588.03 701.41" stroke-opacity="0.95" stroke-width="1.6"/>
<path d="M588.15 701.19 A62 62 0 0 1 584.82 706.52" stroke-opacity="0.94" stroke-width="1.6"/>
<path d="M584.96 706.31 A62 62 0 0 1 581.13 711.28" stroke-opacity="0.90" stroke-width="1.6"/>
<path d="M581.30 711.09 A62 62 0 0 1 577.00 715.67" stroke-opacity="0.84" stroke-width="1.6"/>
<path d="M577.18 715.49 A62 62 0 0 1 572.46 719.63" stroke-opacity="0.76" stroke-width="1.6"/>
<path d="M572.66 719.47 A62 62 0 0 1 567.55 723.14" stroke-opacity="0.67" stroke-width="1.6"/>
<path d="M567.77 723.00 A62 62 0 0 1 562.33 726.15" stroke-opacity="0.57" stroke-width="1.6"/>
<path d="M562.56 726.03 A62 62 0 0 1 556.85 728.64" stroke-opacity="0.46" stroke-width="1.6"/>
<path d="M557.08 728.54 A62 62 0 0 1 551.14 730.58" stroke-opacity="0.35" stroke-width="1.6"/>
<path d="M551.39 730.51 A62 62 0 0 1 545.28 731.97" stroke-opacity="0.24" stroke-width="1.6"/>
<path d="M545.53 731.92 A62 62 0 0 1 539.31 732.77" stroke-opacity="0.14" stroke-width="1.6"/>
<path d="M539.56 732.75 A62 62 0 0 1 533.28 733.00" stroke-opacity="0.06" stroke-width="1.6"/>
<path d="M626.79 635.11 A70 70 0 0 1 632.40 639.59" stroke-opacity="0.05" stroke-width="1.7"/>
<path d="M632.19 639.40 A70 70 0 0 1 637.33 644.41" stroke-opacity="0.11" stroke-width="1.7"/>
<path d="M637.14 644.20 A70 70 0 0 1 641.76 649.69" stroke-opacity="0.19" stroke-width="1.7"/>
<path d="M641.59 649.46 A70 70 0 0 1 645.65 655.37" stroke-opacity="0.27" stroke-width="1.7"/>
<path d="M645.50 655.13 A70 70 0 0 1 648.97 661.42" stroke-opacity="0.36" stroke-width="1.7"/>
<path d="M648.84 661.16 A70 70 0 0 1 651.67 667.76" stroke-opacity="0.46" stroke-width="1.7"/>
<path d="M651.57 667.49 A70 70 0 0 1 653.73 674.33" stroke-opacity="0.56" stroke-width="1.7"/>
<path d="M653.66 674.05 A70 70 0 0 1 655.14 681.08" stroke-opacity="0.65" stroke-width="1.7"/>
<path d="M655.10 680.79 A70 70 0 0 1 655.88 687.93" stroke-opacity="0.73" stroke-width="1.7"/>
<path d="M655.86 687.64 A70 70 0 0 1 655.94 694.82" stroke-opacity="0.81" stroke-width="1.7"/>
<path d="M655.95 694.53 A70 70 0 0 1 655.33 701.68" stroke-opacity="0.88" stroke-width="1.7"/>
<path d="M655.37 701.40 A70 70 0 0 1 654.04 708.45" stroke-opacity="0.93" stroke-width="1.7"/>
<path d="M654.11 708.17 A70 70 0 0 1 652.09 715.06" stroke-opacity="0.97" stroke-width="1.7"/>
<path d="M652.19 714.79 A70 70 0 0 1 649.50 721.45" stroke-opacity="0.99" stroke-width="1.7"/>
<path d="M649.62 721.19 A70 70 0 0 1 646.30 727.55" stroke-opacity="1.00" stroke-width="1.7"/>
<path d="M646.45 727.30 A70 70 0 0 1 642.51 733.31" stroke-opacity="0.99" stroke-width="1.7"/>
<path d="M642.68 733.07 A70 70 0 0 1 638.18 738.66" stroke-opacity="0.95" stroke-width="1.7"/>
<path d="M638.37 738.45 A70 70 0 0 1 633.34 743.57" stroke-opacity="0.88" stroke-width="1.7"/>
<path d="M633.55 743.37 A70 70 0 0 1 628.04 747.97" stroke-opacity="0.80" stroke-width="1.7"/>
<path d="M628.27 747.80 A70 70 0 0 1 622.33 751.84" stroke-opacity="0.71" stroke-width="1.7"/>
<path d="M622.57 751.68 A70 70 0 0 1 616.27 755.12" stroke-opacity="0.60" stroke-width="1.7"/>
<path d="M616.53 754.99 A70 70 0 0 1 609.92 757.79" stroke-opacity="0.48" stroke-width="1.7"/>
<path d="M610.19 757.69 A70 70 0 0 1 603.33 759.82" stroke-opacity="0.36" stroke-width="1.7"/>
<path d="M603.61 759.75 A70 70 0 0 1 596.58 761.20" stroke-opacity="0.25" stroke-width="1.7"/>
<path d="M596.86 761.15 A70 70 0 0 1 589.72 761.90" stroke-opacity="0.15" stroke-width="1.7"/>
<path d="M590.01 761.88 A70 70 0 0 1 582.83 761.93" stroke-opacity="0.07" stroke-width="1.7"/>
<path d="M684.08 647.07 A82 82 0 0 1 690.47 652.54" stroke-opacity="0.05" stroke-width="1.8"/>
<path d="M690.22 652.31 A82 82 0 0 1 696.04 658.38" stroke-opacity="0.11" stroke-width="1.8"/>
<path d="M695.82 658.13 A82 82 0 0 1 701.01 664.74" stroke-opacity="0.19" stroke-width="1.8"/>
<path d="M700.82 664.47 A82 82 0 0 1 705.33 671.56" stroke-opacity="0.27" stroke-width="1.8"/>
<path d="M705.17 671.27 A82 82 0 0 1 708.97 678.77" stroke-opacity="0.36" stroke-width="1.8"/>
<path d="M708.83 678.46 A82 82 0 0 1 711.87 686.30" stroke-opacity="0.46" stroke-width="1.8"/>
<path d="M711.76 685.98 A82 82 0 0 1 714.02 694.08" stroke-opacity="0.56" stroke-width="1.8"/>
<path d="M713.94 693.75 A82 82 0 0 1 715.39 702.04" stroke-opacity="0.65" stroke-width="1.8"/>
<path d="M715.35 701.70 A82 82 0 0 1 715.98 710.09" stroke-opacity="0.73" stroke-width="1.8"/>
<path d="M715.97 709.75 A82 82 0 0 1 715.77 718.16" stroke-opacity="0.81" stroke-width="1.8"/>
<path d="M715.79 717.82 A82 82 0 0 1 714.77 726.17" stroke-opacity="0.88" stroke-width="1.8"/>
<path d="M714.82 725.84 A82 82 0 0 1 712.98 734.04" stroke-opacity="0.93" stroke-width="1.8"/>
<path d="M713.07 733.72 A82 82 0 0 1 710.43 741.70" stroke-opacity="0.97" stroke-width="1.8"/>
<path d="M710.55 741.39 A82 82 0 0 1 707.14 749.07" stroke-opacity="0.99" stroke-width="1.8"/>
<path d="M707.29 748.77 A82 82 0 0 1 703.14 756.09" stroke-opacity="1.00" stroke-width="1.8"/>
<path d="M703.32 755.80 A82 82 0 0 1 698.47 762.67" stroke-opacity="0.99" stroke-width="1.8"/>
<path d="M698.68 762.40 A82 82 0 0 1 693.18 768.76" stroke-opacity="0.95" stroke-width="1.8"/>
<path d="M693.41 768.52 A82 82 0 0 1 687.31 774.31" stroke-opacity="0.88" stroke-width="1.8"/>
<path d="M687.57 774.09 A82 82 0 0 1 680.92 779.25" stroke-opacity="0.80" stroke-width="1.8"/>
<path d="M681.20 779.05 A82 82 0 0 1 674.08 783.54" stroke-opacity="0.71" stroke-width="1.8"/>
<path d="M674.38 783.37 A82 82 0 0 1 666.86 787.13" stroke-opacity="0.60" stroke-width="1.8"/>
<path d="M667.17 786.99 A82 82 0 0 1 659.31 790.00" stroke-opacity="0.48" stroke-width="1.8"/>
<path d="M659.63 789.89 A82 82 0 0 1 651.52 792.11" stroke-opacity="0.36" stroke-width="1.8"/>
<path d="M651.85 792.03 A82 82 0 0 1 643.56 793.44" stroke-opacity="0.25" stroke-width="1.8"/>
<path d="M643.89 793.40 A82 82 0 0 1 635.50 793.99" stroke-opacity="0.15" stroke-width="1.8"/>
<path d="M635.84 793.98 A82 82 0 0 1 627.43 793.74" stroke-opacity="0.07" stroke-width="1.8"/>
<path d="M742.95 799.59 A43 43 0 0 1 739.72 796.51" stroke-opacity="0.10" stroke-width="1.7"/>
<path d="M739.85 796.64 A43 43 0 0 1 736.94 793.25" stroke-opacity="0.22" stroke-width="1.7"/>
<path d="M737.05 793.39 A43 43 0 0 1 734.50 789.72" stroke-opacity="0.36" stroke-width="1.7"/>
<path d="M734.59 789.88 A43 43 0 0 1 732.41 785.98" stroke-opacity="0.51" stroke-width="1.7"/>
<path d="M732.49 786.14 A43 43 0 0 1 730.72 782.04" stroke-opacity="0.66" stroke-width="1.7"/>
<path d="M730.78 782.21 A43 43 0 0 1 729.42 777.96" stroke-opacity="0.79" stroke-width="1.7"/>
<path d="M729.47 778.13 A43 43 0 0 1 728.53 773.76" stroke-opacity="0.89" stroke-width="1.7"/>
<path d="M728.56 773.94 A43 43 0 0 1 728.07 769.50" stroke-opacity="0.97" stroke-width="1.7"/>
<path d="M728.08 769.68 A43 43 0 0 1 728.04 765.21" stroke-opacity="1.00" stroke-width="1.7"/>
<path d="M728.03 765.39 A43 43 0 0 1 728.43 760.94" stroke-opacity="1.00" stroke-width="1.7"/>
<path d="M728.40 761.12 A43 43 0 0 1 729.24 756.73" stroke-opacity="0.98" stroke-width="1.7"/>
<path d="M729.20 756.91 A43 43 0 0 1 730.47 752.63" stroke-opacity="0.96" stroke-width="1.7"/>
<path d="M730.41 752.80 A43 43 0 0 1 732.11 748.66" stroke-opacity="0.92" stroke-width="1.7"/>
<path d="M732.03 748.83 A43 43 0 0 1 734.12 744.88" stroke-opacity="0.87" stroke-width="1.7"/>
<path d="M734.03 745.04 A43 43 0 0 1 736.51 741.32" stroke-opacity="0.82" stroke-width="1.7"/>
<path d="M736.40 741.47 A43 43 0 0 1 739.24 738.01" stroke-opacity="0.75" stroke-width="1.7"/>
<path d="M739.12 738.15 A43 43 0 0 1 742.28 735.00" stroke-opacity="0.68" stroke-width="1.7"/>
<path d="M742.15 735.12 A43 43 0 0 1 745.61 732.30" stroke-opacity="0.61" stroke-width="1.7"/>
<path d="M745.47 732.40 A43 43 0 0 1 749.19 729.94" stroke-opacity="0.53" stroke-width="1.7"/>
<path d="M749.04 730.03 A43 43 0 0 1 752.99 727.95" stroke-opacity="0.45" stroke-width="1.7"/>
<path d="M752.83 728.03 A43 43 0 0 1 756.97 726.35" stroke-opacity="0.36" stroke-width="1.7"/>
<path d="M756.80 726.41 A43 43 0 0 1 761.08 725.16" stroke-opacity="0.29" stroke-width="1.7"/>
<path d="M760.91 725.20 A43 43 0 0 1 765.30 724.38" stroke-opacity="0.21" stroke-width="1.7"/>
<path d="M765.12 724.40 A43 43 0 0 1 769.57 724.02" stroke-opacity="0.14" stroke-width="1.7"/>
<path d="M769.39 724.03 A43 43 0 0 1 773.86 724.10" stroke-opacity="0.08" stroke-width="1.7"/>
<path d="M773.68 724.08 A43 43 0 0 1 778.12 724.59" stroke-opacity="0.04" stroke-width="1.7"/>
<path d="M773.54 802.25 A35 35 0 0 1 770.74 799.82" stroke-opacity="0.09" stroke-width="1.6"/>
<path d="M770.84 799.93 A35 35 0 0 1 768.30 797.23" stroke-opacity="0.20" stroke-width="1.6"/>
<path d="M768.40 797.35 A35 35 0 0 1 766.15 794.41" stroke-opacity="0.33" stroke-width="1.6"/>
<path d="M766.23 794.53 A35 35 0 0 1 764.28 791.38" stroke-opacity="0.46" stroke-width="1.6"/>
<path d="M764.36 791.51 A35 35 0 0 1 762.74 788.18" stroke-opacity="0.59" stroke-width="1.6"/>
<path d="M762.80 788.32 A35 35 0 0 1 761.53 784.84" stroke-opacity="0.71" stroke-width="1.6"/>
<path d="M761.57 784.98 A35 35 0 0 1 760.66 781.39" stroke-opacity="0.81" stroke-width="1.6"/>
<path d="M760.69 781.54 A35 35 0 0 1 760.15 777.87" stroke-opacity="0.87" stroke-width="1.6"/>
<path d="M760.17 778.02 A35 35 0 0 1 760.00 774.32" stroke-opacity="0.90" stroke-width="1.6"/>
<path d="M760.00 774.47 A35 35 0 0 1 760.21 770.77" stroke-opacity="0.90" stroke-width="1.6"/>
<path d="M760.19 770.92 A35 35 0 0 1 760.78 767.26" stroke-opacity="0.88" stroke-width="1.6"/>
<path d="M760.75 767.41 A35 35 0 0 1 761.70 763.83" stroke-opacity="0.86" stroke-width="1.6"/>
<path d="M761.65 763.97 A35 35 0 0 1 762.96 760.51" stroke-opacity="0.83" stroke-width="1.6"/>
<path d="M762.90 760.64 A35 35 0 0 1 764.56 757.33" stroke-opacity="0.79" stroke-width="1.6"/>
<path d="M764.48 757.46 A35 35 0 0 1 766.47 754.33" stroke-opacity="0.74" stroke-width="1.6"/>
<path d="M766.38 754.45 A35 35 0 0 1 768.67 751.54" stroke-opacity="0.68" stroke-width="1.6"/>
<path d="M768.57 751.65 A35 35 0 0 1 771.14 748.99" stroke-opacity="0.61" stroke-width="1.6"/>
<path d="M771.03 749.09 A35 35 0 0 1 773.86 746.70" stroke-opacity="0.55" stroke-width="1.6"/>
<path d="M773.75 746.79 A35 35 0 0 1 776.80 744.70" stroke-opacity="0.47" stroke-width="1.6"/>
<path d="M776.68 744.78 A35 35 0 0 1 779.93 743.01" stroke-opacity="0.40" stroke-width="1.6"/>
<path d="M779.79 743.08 A35 35 0 0 1 783.21 741.65" stroke-opacity="0.33" stroke-width="1.6"/>
<path d="M783.07 741.70 A35 35 0 0 1 786.61 740.62" stroke-opacity="0.26" stroke-width="1.6"/>
<path d="M786.47 740.66 A35 35 0 0 1 790.10 739.94" stroke-opacity="0.19" stroke-width="1.6"/>
<path d="M789.96 739.97 A35 35 0 0 1 793.64 739.63" stroke-opacity="0.13" stroke-width="1.6"/>
<path d="M793.50 739.63 A35 35 0 0 1 797.20 739.67" stroke-opacity="0.08" stroke-width="1.6"/>
<path d="M797.05 739.66 A35 35 0 0 1 800.73 740.07" stroke-opacity="0.03" stroke-width="1.6"/>
<path d="M802.43 808.44 A30 30 0 0 1 800.18 806.29" stroke-opacity="0.09" stroke-width="1.5"/>
<path d="M800.26 806.38 A30 30 0 0 1 798.24 804.01" stroke-opacity="0.19" stroke-width="1.5"/>
<path d="M798.31 804.11 A30 30 0 0 1 796.53 801.55" stroke-opacity="0.31" stroke-width="1.5"/>
<path d="M796.60 801.66 A30 30 0 0 1 795.08 798.94" stroke-opacity="0.44" stroke-width="1.5"/>
<path d="M795.14 799.05 A30 30 0 0 1 793.90 796.19" stroke-opacity="0.56" stroke-width="1.5"/>
<path d="M793.94 796.31 A30 30 0 0 1 792.99 793.34" stroke-opacity="0.67" stroke-width="1.5"/>
<path d="M793.02 793.46 A30 30 0 0 1 792.37 790.42" stroke-opacity="0.76" stroke-width="1.5"/>
<path d="M792.39 790.54 A30 30 0 0 1 792.05 787.44" stroke-opacity="0.82" stroke-width="1.5"/>
<path d="M792.06 787.57 A30 30 0 0 1 792.03 784.45" stroke-opacity="0.85" stroke-width="1.5"/>
<path d="M792.02 784.58 A30 30 0 0 1 792.30 781.47" stroke-opacity="0.85" stroke-width="1.5"/>
<path d="M792.28 781.60 A30 30 0 0 1 792.87 778.54" stroke-opacity="0.84" stroke-width="1.5"/>
<path d="M792.84 778.66 A30 30 0 0 1 793.73 775.67" stroke-opacity="0.81" stroke-width="1.5"/>
<path d="M793.68 775.79 A30 30 0 0 1 794.86 772.91" stroke-opacity="0.78" stroke-width="1.5"/>
<path d="M794.81 773.02 A30 30 0 0 1 796.27 770.27" stroke-opacity="0.74" stroke-width="1.5"/>
<path d="M796.21 770.38 A30 30 0 0 1 797.94 767.78" stroke-opacity="0.69" stroke-width="1.5"/>
<path d="M797.86 767.89 A30 30 0 0 1 799.84 765.48" stroke-opacity="0.64" stroke-width="1.5"/>
<path d="M799.76 765.57 A30 30 0 0 1 801.96 763.37" stroke-opacity="0.58" stroke-width="1.5"/>
<path d="M801.87 763.46 A30 30 0 0 1 804.29 761.49" stroke-opacity="0.51" stroke-width="1.5"/>
<path d="M804.19 761.56 A30 30 0 0 1 806.79 759.84" stroke-opacity="0.45" stroke-width="1.5"/>
<path d="M806.68 759.91 A30 30 0 0 1 809.44 758.46" stroke-opacity="0.38" stroke-width="1.5"/>
<path d="M809.32 758.51 A30 30 0 0 1 812.21 757.34" stroke-opacity="0.31" stroke-width="1.5"/>
<path d="M812.09 757.38 A30 30 0 0 1 815.08 756.51" stroke-opacity="0.24" stroke-width="1.5"/>
<path d="M814.96 756.54 A30 30 0 0 1 818.02 755.96" stroke-opacity="0.18" stroke-width="1.5"/>
<path d="M817.90 755.98 A30 30 0 0 1 821.00 755.72" stroke-opacity="0.12" stroke-width="1.5"/>
<path d="M820.88 755.72 A30 30 0 0 1 823.99 755.77" stroke-opacity="0.07" stroke-width="1.5"/>
<path d="M823.87 755.76 A30 30 0 0 1 826.96 756.11" stroke-opacity="0.03" stroke-width="1.5"/>
<path d="M832.35 806.96 A21 21 0 0 1 830.82 805.51" stroke-opacity="0.02" stroke-width="1.2"/>
<path d="M830.88 805.57 A21 21 0 0 1 829.49 803.98" stroke-opacity="0.05" stroke-width="1.2"/>
<path d="M829.54 804.04 A21 21 0 0 1 828.31 802.32" stroke-opacity="0.09" stroke-width="1.2"/>
<path d="M828.36 802.39 A21 21 0 0 1 827.30 800.56" stroke-opacity="0.13" stroke-width="1.2"/>
<path d="M827.34 800.64 A21 21 0 0 1 826.47 798.71" stroke-opacity="0.17" stroke-width="1.2"/>
<path d="M826.50 798.79 A21 21 0 0 1 825.82 796.79" stroke-opacity="0.21" stroke-width="1.2"/>
<path d="M825.84 796.88 A21 21 0 0 1 825.35 794.82" stroke-opacity="0.24" stroke-width="1.2"/>
<path d="M825.37 794.90 A21 21 0 0 1 825.08 792.81" stroke-opacity="0.27" stroke-width="1.2"/>
<path d="M825.09 792.90 A21 21 0 0 1 825.00 790.78" stroke-opacity="0.29" stroke-width="1.2"/>
<path d="M825.00 790.87 A21 21 0 0 1 825.12 788.76" stroke-opacity="0.30" stroke-width="1.2"/>
<path d="M825.11 788.84 A21 21 0 0 1 825.43 786.76" stroke-opacity="0.30" stroke-width="1.2"/>
<path d="M825.42 786.84 A21 21 0 0 1 825.94 784.79" stroke-opacity="0.30" stroke-width="1.2"/>
<path d="M825.91 784.87 A21 21 0 0 1 826.63 782.88" stroke-opacity="0.29" stroke-width="1.2"/>
<path d="M826.60 782.96 A21 21 0 0 1 827.50 781.05" stroke-opacity="0.28" stroke-width="1.2"/>
<path d="M827.46 781.13 A21 21 0 0 1 828.55 779.32" stroke-opacity="0.26" stroke-width="1.2"/>
<path d="M828.50 779.39 A21 21 0 0 1 829.76 777.69" stroke-opacity="0.24" stroke-width="1.2"/>
<path d="M829.70 777.75 A21 21 0 0 1 831.12 776.18" stroke-opacity="0.22" stroke-width="1.2"/>
<path d="M831.06 776.24 A21 21 0 0 1 832.62 774.82" stroke-opacity="0.20" stroke-width="1.2"/>
<path d="M832.55 774.87 A21 21 0 0 1 834.24 773.60" stroke-opacity="0.17" stroke-width="1.2"/>
<path d="M834.17 773.65 A21 21 0 0 1 835.97 772.55" stroke-opacity="0.15" stroke-width="1.2"/>
<path d="M835.90 772.59 A21 21 0 0 1 837.80 771.67" stroke-opacity="0.12" stroke-width="1.2"/>
<path d="M837.72 771.70 A21 21 0 0 1 839.70 770.97" stroke-opacity="0.10" stroke-width="1.2"/>
<path d="M839.62 770.99 A21 21 0 0 1 841.67 770.45" stroke-opacity="0.07" stroke-width="1.2"/>
<path d="M841.58 770.47 A21 21 0 0 1 843.67 770.13" stroke-opacity="0.05" stroke-width="1.2"/>
<path d="M843.58 770.14 A21 21 0 0 1 845.69 770.00" stroke-opacity="0.03" stroke-width="1.2"/>
<path d="M1281.08 602.16 A23 23 0 0 1 1282.28 604.15" stroke-opacity="0.04" stroke-width="1.2"/>
<path d="M1282.23 604.06 A23 23 0 0 1 1283.23 606.15" stroke-opacity="0.06" stroke-width="1.2"/>
<path d="M1283.19 606.07 A23 23 0 0 1 1283.98 608.24" stroke-opacity="0.09" stroke-width="1.2"/>
<path d="M1283.96 608.15 A23 23 0 0 1 1284.53 610.39" stroke-opacity="0.12" stroke-width="1.2"/>
<path d="M1284.52 610.30 A23 23 0 0 1 1284.87 612.59" stroke-opacity="0.15" stroke-width="1.2"/>
<path d="M1284.86 612.50 A23 23 0 0 1 1285.00 614.81" stroke-opacity="0.18" stroke-width="1.2"/>
<path d="M1285.00 614.71 A23 23 0 0 1 1284.91 617.03" stroke-opacity="0.20" stroke-width="1.2"/>
<path d="M1284.92 616.93 A23 23 0 0 1 1284.61 619.23" stroke-opacity="0.22" stroke-width="1.2"/>
<path d="M1284.63 619.14 A23 23 0 0 1 1284.10 621.39" stroke-opacity="0.24" stroke-width="1.2"/>
<path d="M1284.12 621.30 A23 23 0 0 1 1283.38 623.49" stroke-opacity="0.25" stroke-width="1.2"/>
<path d="M1283.41 623.40 A23 23 0 0 1 1282.46 625.51" stroke-opacity="0.25" stroke-width="1.2"/>
<path d="M1282.50 625.43 A23 23 0 0 1 1281.35 627.44" stroke-opacity="0.25" stroke-width="1.2"/>
<path d="M1281.40 627.36 A23 23 0 0 1 1280.06 629.24" stroke-opacity="0.24" stroke-width="1.2"/>
<path d="M1280.12 629.17 A23 23 0 0 1 1278.60 630.92" stroke-opacity="0.23" stroke-width="1.2"/>
<path d="M1278.66 630.85 A23 23 0 0 1 1276.99 632.45" stroke-opacity="0.22" stroke-width="1.2"/>
<path d="M1277.06 632.39 A23 23 0 0 1 1275.23 633.81" stroke-opacity="0.20" stroke-width="1.2"/>
<path d="M1275.31 633.76 A23 23 0 0 1 1273.36 635.00" stroke-opacity="0.18" stroke-width="1.2"/>
<path d="M1273.44 634.95 A23 23 0 0 1 1271.37 636.00" stroke-opacity="0.16" stroke-width="1.2"/>
<path d="M1271.46 635.96 A23 23 0 0 1 1269.30 636.81" stroke-opacity="0.14" stroke-width="1.2"/>
<path d="M1269.39 636.78 A23 23 0 0 1 1267.17 637.41" stroke-opacity="0.11" stroke-width="1.2"/>
<path d="M1267.26 637.39 A23 23 0 0 1 1264.98 637.81" stroke-opacity="0.09" stroke-width="1.2"/>
<path d="M1265.07 637.79 A23 23 0 0 1 1262.77 637.99" stroke-opacity="0.07" stroke-width="1.2"/>
<path d="M1262.86 637.98 A23 23 0 0 1 1260.55 637.95" stroke-opacity="0.05" stroke-width="1.2"/>
<path d="M1260.64 637.96 A23 23 0 0 1 1258.34 637.71" stroke-opacity="0.03" stroke-width="1.2"/>
<path d="M1327.41 614.44 A41 41 0 0 1 1330.39 617.62" stroke-opacity="0.05" stroke-width="1.4"/>
<path d="M1330.28 617.49 A41 41 0 0 1 1332.92 620.96" stroke-opacity="0.10" stroke-width="1.4"/>
<path d="M1332.82 620.82 A41 41 0 0 1 1335.09 624.55" stroke-opacity="0.17" stroke-width="1.4"/>
<path d="M1335.01 624.39 A41 41 0 0 1 1336.89 628.33" stroke-opacity="0.25" stroke-width="1.4"/>
<path d="M1336.82 628.17 A41 41 0 0 1 1338.29 632.28" stroke-opacity="0.33" stroke-width="1.4"/>
<path d="M1338.24 632.11 A41 41 0 0 1 1339.28 636.35" stroke-opacity="0.42" stroke-width="1.4"/>
<path d="M1339.25 636.18 A41 41 0 0 1 1339.85 640.50" stroke-opacity="0.50" stroke-width="1.4"/>
<path d="M1339.83 640.32 A41 41 0 0 1 1339.99 644.69" stroke-opacity="0.58" stroke-width="1.4"/>
<path d="M1340.00 644.51 A41 41 0 0 1 1339.71 648.87" stroke-opacity="0.65" stroke-width="1.4"/>
<path d="M1339.73 648.69 A41 41 0 0 1 1339.00 653.00" stroke-opacity="0.70" stroke-width="1.4"/>
<path d="M1339.04 652.82 A41 41 0 0 1 1337.87 657.03" stroke-opacity="0.75" stroke-width="1.4"/>
<path d="M1337.93 656.86 A41 41 0 0 1 1336.34 660.93" stroke-opacity="0.78" stroke-width="1.4"/>
<path d="M1336.41 660.77 A41 41 0 0 1 1334.42 664.65" stroke-opacity="0.80" stroke-width="1.4"/>
<path d="M1334.51 664.50 A41 41 0 0 1 1332.13 668.16" stroke-opacity="0.80" stroke-width="1.4"/>
<path d="M1332.23 668.02 A41 41 0 0 1 1329.49 671.41" stroke-opacity="0.78" stroke-width="1.4"/>
<path d="M1329.61 671.28 A41 41 0 0 1 1326.53 674.38" stroke-opacity="0.75" stroke-width="1.4"/>
<path d="M1326.66 674.26 A41 41 0 0 1 1323.29 677.03" stroke-opacity="0.70" stroke-width="1.4"/>
<path d="M1323.43 676.93 A41 41 0 0 1 1319.79 679.34" stroke-opacity="0.65" stroke-width="1.4"/>
<path d="M1319.94 679.25 A41 41 0 0 1 1316.07 681.28" stroke-opacity="0.58" stroke-width="1.4"/>
<path d="M1316.23 681.20 A41 41 0 0 1 1312.18 682.82" stroke-opacity="0.50" stroke-width="1.4"/>
<path d="M1312.35 682.77 A41 41 0 0 1 1308.15 683.97" stroke-opacity="0.42" stroke-width="1.4"/>
<path d="M1308.32 683.93 A41 41 0 0 1 1304.02 684.69" stroke-opacity="0.33" stroke-width="1.4"/>
<path d="M1304.20 684.67 A41 41 0 0 1 1299.85 684.99" stroke-opacity="0.25" stroke-width="1.4"/>
<path d="M1300.02 684.99 A41 41 0 0 1 1295.66 684.86" stroke-opacity="0.17" stroke-width="1.4"/>
<path d="M1295.83 684.88 A41 41 0 0 1 1291.51 684.31" stroke-opacity="0.10" stroke-width="1.4"/>
<path d="M1291.68 684.34 A41 41 0 0 1 1287.43 683.33" stroke-opacity="0.05" stroke-width="1.4"/>
<path d="M1375.34 644.23 A51 51 0 0 1 1379.05 648.19" stroke-opacity="0.05" stroke-width="1.5"/>
<path d="M1378.90 648.02 A51 51 0 0 1 1382.19 652.35" stroke-opacity="0.11" stroke-width="1.5"/>
<path d="M1382.07 652.17 A51 51 0 0 1 1384.89 656.80" stroke-opacity="0.18" stroke-width="1.5"/>
<path d="M1384.79 656.61 A51 51 0 0 1 1387.13 661.51" stroke-opacity="0.27" stroke-width="1.5"/>
<path d="M1387.04 661.31 A51 51 0 0 1 1388.87 666.42" stroke-opacity="0.35" stroke-width="1.5"/>
<path d="M1388.81 666.21 A51 51 0 0 1 1390.10 671.48" stroke-opacity="0.44" stroke-width="1.5"/>
<path d="M1390.06 671.27 A51 51 0 0 1 1390.81 676.65" stroke-opacity="0.53" stroke-width="1.5"/>
<path d="M1390.79 676.43 A51 51 0 0 1 1390.99 681.85" stroke-opacity="0.61" stroke-width="1.5"/>
<path d="M1391.00 681.64 A51 51 0 0 1 1390.64 687.05" stroke-opacity="0.69" stroke-width="1.5"/>
<path d="M1390.66 686.84 A51 51 0 0 1 1389.76 692.19" stroke-opacity="0.75" stroke-width="1.5"/>
<path d="M1389.80 691.98 A51 51 0 0 1 1388.36 697.21" stroke-opacity="0.80" stroke-width="1.5"/>
<path d="M1388.42 697.00 A51 51 0 0 1 1386.45 702.06" stroke-opacity="0.83" stroke-width="1.5"/>
<path d="M1386.54 701.86 A51 51 0 0 1 1384.06 706.69" stroke-opacity="0.85" stroke-width="1.5"/>
<path d="M1384.17 706.50 A51 51 0 0 1 1381.21 711.05" stroke-opacity="0.85" stroke-width="1.5"/>
<path d="M1381.33 710.87 A51 51 0 0 1 1377.92 715.10" stroke-opacity="0.83" stroke-width="1.5"/>
<path d="M1378.07 714.94 A51 51 0 0 1 1374.25 718.79" stroke-opacity="0.80" stroke-width="1.5"/>
<path d="M1374.41 718.64 A51 51 0 0 1 1370.21 722.09" stroke-opacity="0.75" stroke-width="1.5"/>
<path d="M1370.39 721.96 A51 51 0 0 1 1365.86 724.96" stroke-opacity="0.69" stroke-width="1.5"/>
<path d="M1366.05 724.85 A51 51 0 0 1 1361.24 727.37" stroke-opacity="0.61" stroke-width="1.5"/>
<path d="M1361.44 727.28 A51 51 0 0 1 1356.40 729.29" stroke-opacity="0.53" stroke-width="1.5"/>
<path d="M1356.60 729.22 A51 51 0 0 1 1351.38 730.71" stroke-opacity="0.44" stroke-width="1.5"/>
<path d="M1351.60 730.66 A51 51 0 0 1 1346.25 731.62" stroke-opacity="0.35" stroke-width="1.5"/>
<path d="M1346.47 731.59 A51 51 0 0 1 1341.05 731.99" stroke-opacity="0.27" stroke-width="1.5"/>
<path d="M1341.27 731.98 A51 51 0 0 1 1335.84 731.83" stroke-opacity="0.18" stroke-width="1.5"/>
<path d="M1336.06 731.85 A51 51 0 0 1 1330.68 731.14" stroke-opacity="0.11" stroke-width="1.5"/>
<path d="M1330.89 731.18 A51 51 0 0 1 1325.61 729.93" stroke-opacity="0.05" stroke-width="1.5"/>
<path d="M1425.93 673.51 A59 59 0 0 1 1430.27 678.16" stroke-opacity="0.05" stroke-width="1.6"/>
<path d="M1430.10 677.96 A59 59 0 0 1 1433.93 683.04" stroke-opacity="0.12" stroke-width="1.6"/>
<path d="M1433.79 682.82 A59 59 0 0 1 1437.08 688.27" stroke-opacity="0.20" stroke-width="1.6"/>
<path d="M1436.96 688.04 A59 59 0 0 1 1439.66 693.79" stroke-opacity="0.30" stroke-width="1.6"/>
<path d="M1439.57 693.56 A59 59 0 0 1 1441.66 699.56" stroke-opacity="0.40" stroke-width="1.6"/>
<path d="M1441.59 699.31 A59 59 0 0 1 1443.06 705.50" stroke-opacity="0.50" stroke-width="1.6"/>
<path d="M1443.01 705.25 A59 59 0 0 1 1443.83 711.55" stroke-opacity="0.59" stroke-width="1.6"/>
<path d="M1443.81 711.30 A59 59 0 0 1 1443.98 717.65" stroke-opacity="0.69" stroke-width="1.6"/>
<path d="M1443.98 717.40 A59 59 0 0 1 1443.49 723.74" stroke-opacity="0.77" stroke-width="1.6"/>
<path d="M1443.52 723.48 A59 59 0 0 1 1442.38 729.74" stroke-opacity="0.84" stroke-width="1.6"/>
<path d="M1442.44 729.49 A59 59 0 0 1 1440.65 735.59" stroke-opacity="0.89" stroke-width="1.6"/>
<path d="M1440.74 735.35 A59 59 0 0 1 1438.33 741.23" stroke-opacity="0.93" stroke-width="1.6"/>
<path d="M1438.44 741.00 A59 59 0 0 1 1435.44 746.61" stroke-opacity="0.95" stroke-width="1.6"/>
<path d="M1435.57 746.39 A59 59 0 0 1 1432.01 751.65" stroke-opacity="0.95" stroke-width="1.6"/>
<path d="M1432.16 751.45 A59 59 0 0 1 1428.08 756.32" stroke-opacity="0.93" stroke-width="1.6"/>
<path d="M1428.25 756.13 A59 59 0 0 1 1423.68 760.55" stroke-opacity="0.89" stroke-width="1.6"/>
<path d="M1423.87 760.38 A59 59 0 0 1 1418.87 764.31" stroke-opacity="0.84" stroke-width="1.6"/>
<path d="M1419.08 764.16 A59 59 0 0 1 1413.70 767.55" stroke-opacity="0.77" stroke-width="1.6"/>
<path d="M1413.92 767.42 A59 59 0 0 1 1408.22 770.24" stroke-opacity="0.69" stroke-width="1.6"/>
<path d="M1408.46 770.14 A59 59 0 0 1 1402.50 772.35" stroke-opacity="0.59" stroke-width="1.6"/>
<path d="M1402.74 772.27 A59 59 0 0 1 1396.58 773.85" stroke-opacity="0.50" stroke-width="1.6"/>
<path d="M1396.83 773.80 A59 59 0 0 1 1390.55 774.74" stroke-opacity="0.40" stroke-width="1.6"/>
<path d="M1390.80 774.71 A59 59 0 0 1 1384.45 775.00" stroke-opacity="0.30" stroke-width="1.6"/>
<path d="M1384.71 775.00 A59 59 0 0 1 1378.36 774.63" stroke-opacity="0.20" stroke-width="1.6"/>
<path d="M1378.61 774.65 A59 59 0 0 1 1372.34 773.63" stroke-opacity="0.12" stroke-width="1.6"/>
<path d="M1372.59 773.68 A59 59 0 0 1 1366.45 772.01" stroke-opacity="0.05" stroke-width="1.6"/>
<path d="M1476.51 699.78 A67 67 0 0 1 1481.46 705.09" stroke-opacity="0.06" stroke-width="1.7"/>
<path d="M1481.27 704.87 A67 67 0 0 1 1485.64 710.67" stroke-opacity="0.13" stroke-width="1.7"/>
<path d="M1485.48 710.43 A67 67 0 0 1 1489.22 716.66" stroke-opacity="0.22" stroke-width="1.7"/>
<path d="M1489.08 716.40 A67 67 0 0 1 1492.15 722.98" stroke-opacity="0.31" stroke-width="1.7"/>
<path d="M1492.04 722.71 A67 67 0 0 1 1494.42 729.57" stroke-opacity="0.42" stroke-width="1.7"/>
<path d="M1494.34 729.29 A67 67 0 0 1 1495.98 736.37" stroke-opacity="0.52" stroke-width="1.7"/>
<path d="M1495.93 736.08 A67 67 0 0 1 1496.83 743.29" stroke-opacity="0.63" stroke-width="1.7"/>
<path d="M1496.81 742.99 A67 67 0 0 1 1496.96 750.26" stroke-opacity="0.72" stroke-width="1.7"/>
<path d="M1496.97 749.96 A67 67 0 0 1 1496.37 757.20" stroke-opacity="0.81" stroke-width="1.7"/>
<path d="M1496.40 756.91 A67 67 0 0 1 1495.05 764.05" stroke-opacity="0.88" stroke-width="1.7"/>
<path d="M1495.12 763.76 A67 67 0 0 1 1493.03 770.72" stroke-opacity="0.94" stroke-width="1.7"/>
<path d="M1493.13 770.44 A67 67 0 0 1 1490.33 777.15" stroke-opacity="0.98" stroke-width="1.7"/>
<path d="M1490.46 776.88 A67 67 0 0 1 1486.97 783.26" stroke-opacity="1.00" stroke-width="1.7"/>
<path d="M1487.13 783.01 A67 67 0 0 1 1483.00 788.99" stroke-opacity="1.00" stroke-width="1.7"/>
<path d="M1483.18 788.75 A67 67 0 0 1 1478.46 794.27" stroke-opacity="0.98" stroke-width="1.7"/>
<path d="M1478.66 794.06 A67 67 0 0 1 1473.39 799.06" stroke-opacity="0.94" stroke-width="1.7"/>
<path d="M1473.61 798.87 A67 67 0 0 1 1467.85 803.29" stroke-opacity="0.88" stroke-width="1.7"/>
<path d="M1468.09 803.12 A67 67 0 0 1 1461.90 806.92" stroke-opacity="0.81" stroke-width="1.7"/>
<path d="M1462.15 806.78 A67 67 0 0 1 1455.60 809.92" stroke-opacity="0.72" stroke-width="1.7"/>
<path d="M1455.87 809.80 A67 67 0 0 1 1449.03 812.24" stroke-opacity="0.63" stroke-width="1.7"/>
<path d="M1449.31 812.16 A67 67 0 0 1 1442.25 813.87" stroke-opacity="0.52" stroke-width="1.7"/>
<path d="M1442.54 813.82 A67 67 0 0 1 1435.34 814.79" stroke-opacity="0.42" stroke-width="1.7"/>
<path d="M1435.63 814.76 A67 67 0 0 1 1428.37 814.98" stroke-opacity="0.31" stroke-width="1.7"/>
<path d="M1428.66 814.99 A67 67 0 0 1 1421.42 814.45" stroke-opacity="0.22" stroke-width="1.7"/>
<path d="M1421.71 814.49 A67 67 0 0 1 1414.56 813.20" stroke-opacity="0.13" stroke-width="1.7"/>
<path d="M1414.85 813.26 A67 67 0 0 1 1407.87 811.24" stroke-opacity="0.06" stroke-width="1.7"/>
<path d="M1487.66 868.54 A54 54 0 0 1 1485.89 863.15" stroke-opacity="0.08" stroke-width="1.7"/>
<path d="M1485.95 863.37 A54 54 0 0 1 1484.73 857.82" stroke-opacity="0.18" stroke-width="1.7"/>
<path d="M1484.76 858.05 A54 54 0 0 1 1484.11 852.40" stroke-opacity="0.30" stroke-width="1.7"/>
<path d="M1484.12 852.63 A54 54 0 0 1 1484.04 846.95" stroke-opacity="0.43" stroke-width="1.7"/>
<path d="M1484.03 847.18 A54 54 0 0 1 1484.52 841.52" stroke-opacity="0.56" stroke-width="1.7"/>
<path d="M1484.49 841.75 A54 54 0 0 1 1485.55 836.17" stroke-opacity="0.69" stroke-width="1.7"/>
<path d="M1485.49 836.39 A54 54 0 0 1 1487.11 830.95" stroke-opacity="0.80" stroke-width="1.7"/>
<path d="M1487.03 831.16 A54 54 0 0 1 1489.19 825.91" stroke-opacity="0.89" stroke-width="1.7"/>
<path d="M1489.09 826.12 A54 54 0 0 1 1491.76 821.11" stroke-opacity="0.96" stroke-width="1.7"/>
<path d="M1491.64 821.30 A54 54 0 0 1 1494.81 816.59" stroke-opacity="0.99" stroke-width="1.7"/>
<path d="M1494.67 816.77 A54 54 0 0 1 1498.30 812.40" stroke-opacity="1.00" stroke-width="1.7"/>
<path d="M1498.14 812.57 A54 54 0 0 1 1502.19 808.58" stroke-opacity="0.99" stroke-width="1.7"/>
<path d="M1502.02 808.74 A54 54 0 0 1 1506.45 805.18" stroke-opacity="0.96" stroke-width="1.7"/>
<path d="M1506.26 805.31 A54 54 0 0 1 1511.02 802.22" stroke-opacity="0.93" stroke-width="1.7"/>
<path d="M1510.83 802.34 A54 54 0 0 1 1515.88 799.74" stroke-opacity="0.88" stroke-width="1.7"/>
<path d="M1515.67 799.83 A54 54 0 0 1 1520.96 797.76" stroke-opacity="0.81" stroke-width="1.7"/>
<path d="M1520.74 797.83 A54 54 0 0 1 1526.21 796.30" stroke-opacity="0.74" stroke-width="1.7"/>
<path d="M1525.98 796.35 A54 54 0 0 1 1531.58 795.38" stroke-opacity="0.67" stroke-width="1.7"/>
<path d="M1531.35 795.41 A54 54 0 0 1 1537.02 795.01" stroke-opacity="0.58" stroke-width="1.7"/>
<path d="M1536.79 795.01 A54 54 0 0 1 1542.47 795.18" stroke-opacity="0.50" stroke-width="1.7"/>
<path d="M1542.24 795.17 A54 54 0 0 1 1547.87 795.91" stroke-opacity="0.41" stroke-width="1.7"/>
<path d="M1547.64 795.87 A54 54 0 0 1 1553.17 797.17" stroke-opacity="0.32" stroke-width="1.7"/>
<path d="M1552.95 797.11 A54 54 0 0 1 1558.32 798.97" stroke-opacity="0.24" stroke-width="1.7"/>
<path d="M1558.10 798.88 A54 54 0 0 1 1563.26 801.27" stroke-opacity="0.16" stroke-width="1.7"/>
<path d="M1563.05 801.16 A54 54 0 0 1 1567.94 804.06" stroke-opacity="0.10" stroke-width="1.7"/>
<path d="M1567.75 803.93 A54 54 0 0 1 1572.32 807.31" stroke-opacity="0.04" stroke-width="1.7"/>
<path d="M1520.44 896.92 A46 46 0 0 1 1519.02 892.33" stroke-opacity="0.08" stroke-width="1.7"/>
<path d="M1519.07 892.52 A46 46 0 0 1 1518.11 887.81" stroke-opacity="0.18" stroke-width="1.7"/>
<path d="M1518.14 888.00 A46 46 0 0 1 1517.65 883.21" stroke-opacity="0.30" stroke-width="1.7"/>
<path d="M1517.66 883.41 A46 46 0 0 1 1517.66 878.60" stroke-opacity="0.43" stroke-width="1.7"/>
<path d="M1517.65 878.79 A46 46 0 0 1 1518.13 874.01" stroke-opacity="0.56" stroke-width="1.7"/>
<path d="M1518.11 874.20 A46 46 0 0 1 1519.06 869.49" stroke-opacity="0.69" stroke-width="1.7"/>
<path d="M1519.02 869.68 A46 46 0 0 1 1520.44 865.09" stroke-opacity="0.80" stroke-width="1.7"/>
<path d="M1520.37 865.27 A46 46 0 0 1 1522.25 860.84" stroke-opacity="0.89" stroke-width="1.7"/>
<path d="M1522.17 861.02 A46 46 0 0 1 1524.48 856.80" stroke-opacity="0.96" stroke-width="1.7"/>
<path d="M1524.38 856.97 A46 46 0 0 1 1527.10 853.00" stroke-opacity="0.99" stroke-width="1.7"/>
<path d="M1526.98 853.16 A46 46 0 0 1 1530.09 849.49" stroke-opacity="1.00" stroke-width="1.7"/>
<path d="M1529.96 849.63 A46 46 0 0 1 1533.42 846.29" stroke-opacity="0.99" stroke-width="1.7"/>
<path d="M1533.27 846.42 A46 46 0 0 1 1537.05 843.44" stroke-opacity="0.96" stroke-width="1.7"/>
<path d="M1536.89 843.55 A46 46 0 0 1 1540.94 840.97" stroke-opacity="0.93" stroke-width="1.7"/>
<path d="M1540.77 841.06 A46 46 0 0 1 1545.07 838.90" stroke-opacity="0.88" stroke-width="1.7"/>
<path d="M1544.89 838.98 A46 46 0 0 1 1549.38 837.25" stroke-opacity="0.81" stroke-width="1.7"/>
<path d="M1549.19 837.31 A46 46 0 0 1 1553.83 836.05" stroke-opacity="0.74" stroke-width="1.7"/>
<path d="M1553.64 836.09 A46 46 0 0 1 1558.39 835.30" stroke-opacity="0.67" stroke-width="1.7"/>
<path d="M1558.19 835.32 A46 46 0 0 1 1562.99 835.00" stroke-opacity="0.58" stroke-width="1.7"/>
<path d="M1562.80 835.01 A46 46 0 0 1 1567.60 835.17" stroke-opacity="0.50" stroke-width="1.7"/>
<path d="M1567.41 835.16 A46 46 0 0 1 1572.17 835.81" stroke-opacity="0.41" stroke-width="1.7"/>
<path d="M1571.98 835.77 A46 46 0 0 1 1576.66 836.89" stroke-opacity="0.32" stroke-width="1.7"/>
<path d="M1576.47 836.84 A46 46 0 0 1 1581.01 838.42" stroke-opacity="0.24" stroke-width="1.7"/>
<path d="M1580.83 838.35 A46 46 0 0 1 1585.19 840.38" stroke-opacity="0.16" stroke-width="1.7"/>
<path d="M1585.02 840.29 A46 46 0 0 1 1589.15 842.75" stroke-opacity="0.10" stroke-width="1.7"/>
<path d="M1588.99 842.64 A46 46 0 0 1 1592.85 845.50" stroke-opacity="0.04" stroke-width="1.7"/>
<path d="M1554.73 925.83 A39 39 0 0 1 1553.40 922.06" stroke-opacity="0.07" stroke-width="1.6"/>
<path d="M1553.45 922.22 A39 39 0 0 1 1552.50 918.33" stroke-opacity="0.16" stroke-width="1.6"/>
<path d="M1552.53 918.49 A39 39 0 0 1 1551.96 914.53" stroke-opacity="0.27" stroke-width="1.6"/>
<path d="M1551.97 914.69 A39 39 0 0 1 1551.80 910.69" stroke-opacity="0.39" stroke-width="1.6"/>
<path d="M1551.80 910.85 A39 39 0 0 1 1552.02 906.86" stroke-opacity="0.51" stroke-width="1.6"/>
<path d="M1552.00 907.02 A39 39 0 0 1 1552.62 903.07" stroke-opacity="0.62" stroke-width="1.6"/>
<path d="M1552.58 903.22 A39 39 0 0 1 1553.58 899.35" stroke-opacity="0.72" stroke-width="1.6"/>
<path d="M1553.53 899.50 A39 39 0 0 1 1554.91 895.75" stroke-opacity="0.80" stroke-width="1.6"/>
<path d="M1554.84 895.90 A39 39 0 0 1 1556.58 892.29" stroke-opacity="0.86" stroke-width="1.6"/>
<path d="M1556.50 892.43 A39 39 0 0 1 1558.59 889.02" stroke-opacity="0.89" stroke-width="1.6"/>
<path d="M1558.49 889.15 A39 39 0 0 1 1560.90 885.96" stroke-opacity="0.90" stroke-width="1.6"/>
<path d="M1560.80 886.08 A39 39 0 0 1 1563.51 883.14" stroke-opacity="0.89" stroke-width="1.6"/>
<path d="M1563.40 883.25 A39 39 0 0 1 1566.38 880.59" stroke-opacity="0.87" stroke-width="1.6"/>
<path d="M1566.26 880.69 A39 39 0 0 1 1569.49 878.34" stroke-opacity="0.83" stroke-width="1.6"/>
<path d="M1569.36 878.42 A39 39 0 0 1 1572.81 876.40" stroke-opacity="0.79" stroke-width="1.6"/>
<path d="M1572.66 876.47 A39 39 0 0 1 1576.29 874.80" stroke-opacity="0.73" stroke-width="1.6"/>
<path d="M1576.15 874.86 A39 39 0 0 1 1579.92 873.55" stroke-opacity="0.67" stroke-width="1.6"/>
<path d="M1579.77 873.59 A39 39 0 0 1 1583.66 872.66" stroke-opacity="0.60" stroke-width="1.6"/>
<path d="M1583.50 872.69 A39 39 0 0 1 1587.46 872.14" stroke-opacity="0.52" stroke-width="1.6"/>
<path d="M1587.30 872.16 A39 39 0 0 1 1591.30 872.00" stroke-opacity="0.45" stroke-width="1.6"/>
<path d="M1591.14 872.00 A39 39 0 0 1 1595.13 872.24" stroke-opacity="0.37" stroke-width="1.6"/>
<path d="M1594.97 872.22 A39 39 0 0 1 1598.92 872.86" stroke-opacity="0.29" stroke-width="1.6"/>
<path d="M1598.77 872.82 A39 39 0 0 1 1602.63 873.84" stroke-opacity="0.21" stroke-width="1.6"/>
<path d="M1602.48 873.79 A39 39 0 0 1 1606.23 875.18" stroke-opacity="0.15" stroke-width="1.6"/>
<path d="M1606.08 875.12 A39 39 0 0 1 1609.68 876.87" stroke-opacity="0.09" stroke-width="1.6"/>
<path d="M1609.54 876.80 A39 39 0 0 1 1612.94 878.90" stroke-opacity="0.04" stroke-width="1.6"/>
<path d="M1587.42 951.18 A27 27 0 0 1 1586.42 948.65" stroke-opacity="0.02" stroke-width="1.2"/>
<path d="M1586.46 948.76 A27 27 0 0 1 1585.71 946.15" stroke-opacity="0.05" stroke-width="1.2"/>
<path d="M1585.73 946.25 A27 27 0 0 1 1585.24 943.58" stroke-opacity="0.08" stroke-width="1.2"/>
<path d="M1585.25 943.69 A27 27 0 0 1 1585.02 940.98" stroke-opacity="0.11" stroke-width="1.2"/>
<path d="M1585.02 941.09 A27 27 0 0 1 1585.05 938.38" stroke-opacity="0.14" stroke-width="1.2"/>
<path d="M1585.04 938.49 A27 27 0 0 1 1585.33 935.78" stroke-opacity="0.18" stroke-width="1.2"/>
<path d="M1585.31 935.89 A27 27 0 0 1 1585.86 933.23" stroke-opacity="0.21" stroke-width="1.2"/>
<path d="M1585.83 933.34 A27 27 0 0 1 1586.64 930.74" stroke-opacity="0.24" stroke-width="1.2"/>
<path d="M1586.60 930.84 A27 27 0 0 1 1587.65 928.34" stroke-opacity="0.27" stroke-width="1.2"/>
<path d="M1587.60 928.44 A27 27 0 0 1 1588.89 926.04" stroke-opacity="0.28" stroke-width="1.2"/>
<path d="M1588.83 926.14 A27 27 0 0 1 1590.34 923.88" stroke-opacity="0.30" stroke-width="1.2"/>
<path d="M1590.28 923.97 A27 27 0 0 1 1592.00 921.86" stroke-opacity="0.30" stroke-width="1.2"/>
<path d="M1591.92 921.95 A27 27 0 0 1 1593.84 920.02" stroke-opacity="0.30" stroke-width="1.2"/>
<path d="M1593.76 920.09 A27 27 0 0 1 1595.85 918.36" stroke-opacity="0.29" stroke-width="1.2"/>
<path d="M1595.76 918.43 A27 27 0 0 1 1598.01 916.90" stroke-opacity="0.28" stroke-width="1.2"/>
<path d="M1597.92 916.96 A27 27 0 0 1 1600.31 915.66" stroke-opacity="0.26" stroke-width="1.2"/>
<path d="M1600.21 915.71 A27 27 0 0 1 1602.71 914.65" stroke-opacity="0.24" stroke-width="1.2"/>
<path d="M1602.61 914.69 A27 27 0 0 1 1605.20 913.87" stroke-opacity="0.22" stroke-width="1.2"/>
<path d="M1605.09 913.90 A27 27 0 0 1 1607.75 913.34" stroke-opacity="0.19" stroke-width="1.2"/>
<path d="M1607.64 913.35 A27 27 0 0 1 1610.34 913.05" stroke-opacity="0.17" stroke-width="1.2"/>
<path d="M1610.23 913.06 A27 27 0 0 1 1612.95 913.02" stroke-opacity="0.14" stroke-width="1.2"/>
<path d="M1612.84 913.01 A27 27 0 0 1 1615.55 913.23" stroke-opacity="0.11" stroke-width="1.2"/>
<path d="M1615.44 913.22 A27 27 0 0 1 1618.11 913.70" stroke-opacity="0.08" stroke-width="1.2"/>
<path d="M1618.01 913.68 A27 27 0 0 1 1620.62 914.41" stroke-opacity="0.06" stroke-width="1.2"/>
<path d="M1620.52 914.38 A27 27 0 0 1 1623.05 915.37" stroke-opacity="0.03" stroke-width="1.2"/>
</g>
<!-- /WAVES -->

<!-- DASHED LINES -->
<line x1="961" y1="264" x2="961" y2="1101" stroke="#797f7e" stroke-width="2" stroke-dasharray="22 10" stroke-dashoffset="6"/>
<line x1="146" y1="1165" x2="1766" y2="1165" stroke="#797f7e" stroke-width="2" stroke-dasharray="20 12"/>

</svg>
</body></html>
